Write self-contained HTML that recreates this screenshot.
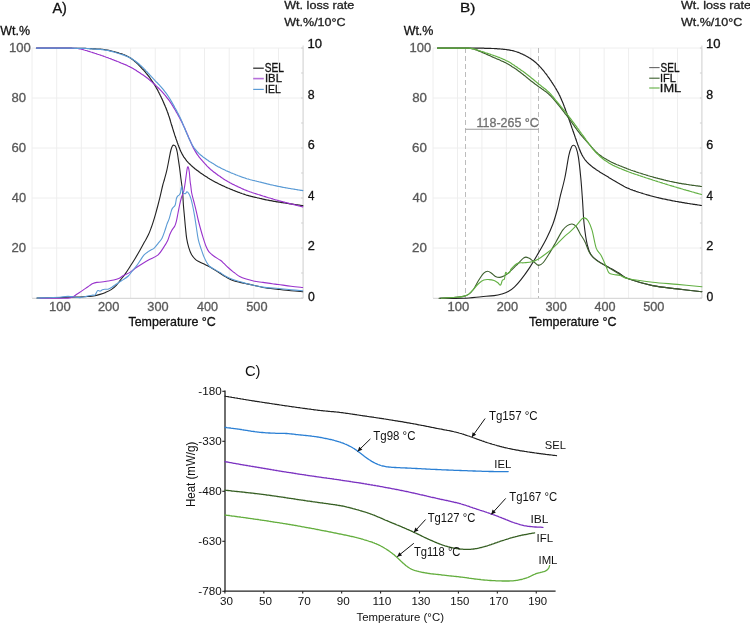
<!DOCTYPE html>
<html><head><meta charset="utf-8"><style>
html,body{margin:0;padding:0;background:#fff;}
svg{display:block;will-change:transform;font-family:"Liberation Sans",sans-serif;}
</style></head><body>
<svg width="750" height="624" viewBox="0 0 750 624">
<rect width="750" height="624" fill="#fff"/>
<line x1="32.06" y1="48" x2="32.06" y2="298" stroke="#eeeeee" stroke-width="1"/>
<line x1="56.70" y1="48" x2="56.70" y2="298" stroke="#eeeeee" stroke-width="1"/>
<line x1="81.34" y1="48" x2="81.34" y2="298" stroke="#eeeeee" stroke-width="1"/>
<line x1="105.98" y1="48" x2="105.98" y2="298" stroke="#eeeeee" stroke-width="1"/>
<line x1="130.62" y1="48" x2="130.62" y2="298" stroke="#eeeeee" stroke-width="1"/>
<line x1="155.26" y1="48" x2="155.26" y2="298" stroke="#eeeeee" stroke-width="1"/>
<line x1="179.90" y1="48" x2="179.90" y2="298" stroke="#eeeeee" stroke-width="1"/>
<line x1="204.54" y1="48" x2="204.54" y2="298" stroke="#eeeeee" stroke-width="1"/>
<line x1="229.18" y1="48" x2="229.18" y2="298" stroke="#eeeeee" stroke-width="1"/>
<line x1="253.82" y1="48" x2="253.82" y2="298" stroke="#eeeeee" stroke-width="1"/>
<line x1="278.46" y1="48" x2="278.46" y2="298" stroke="#eeeeee" stroke-width="1"/>
<line x1="303.10" y1="48" x2="303.10" y2="298" stroke="#eeeeee" stroke-width="1"/>
<line x1="32.06" y1="48" x2="303.1" y2="48" stroke="#eeeeee" stroke-width="1"/>
<line x1="32.06" y1="98" x2="303.1" y2="98" stroke="#eeeeee" stroke-width="1"/>
<line x1="32.06" y1="148" x2="303.1" y2="148" stroke="#eeeeee" stroke-width="1"/>
<line x1="32.06" y1="198" x2="303.1" y2="198" stroke="#eeeeee" stroke-width="1"/>
<line x1="32.06" y1="248" x2="303.1" y2="248" stroke="#eeeeee" stroke-width="1"/>
<line x1="32.06" y1="298.3" x2="303.1" y2="298.3" stroke="#d0d0d0" stroke-width="1"/>
<line x1="303.10" y1="45.5" x2="303.10" y2="298.3" stroke="#d6d6d6" stroke-width="1"/>
<line x1="301.10" y1="298" x2="303.10" y2="298" stroke="#d0d0d0" stroke-width="1"/>
<line x1="301.10" y1="273" x2="303.10" y2="273" stroke="#d0d0d0" stroke-width="1"/>
<line x1="301.10" y1="248" x2="303.10" y2="248" stroke="#d0d0d0" stroke-width="1"/>
<line x1="301.10" y1="223" x2="303.10" y2="223" stroke="#d0d0d0" stroke-width="1"/>
<line x1="301.10" y1="198" x2="303.10" y2="198" stroke="#d0d0d0" stroke-width="1"/>
<line x1="301.10" y1="173" x2="303.10" y2="173" stroke="#d0d0d0" stroke-width="1"/>
<line x1="301.10" y1="148" x2="303.10" y2="148" stroke="#d0d0d0" stroke-width="1"/>
<line x1="301.10" y1="123" x2="303.10" y2="123" stroke="#d0d0d0" stroke-width="1"/>
<line x1="301.10" y1="98" x2="303.10" y2="98" stroke="#d0d0d0" stroke-width="1"/>
<line x1="301.10" y1="73" x2="303.10" y2="73" stroke="#d0d0d0" stroke-width="1"/>
<line x1="301.10" y1="48" x2="303.10" y2="48" stroke="#d0d0d0" stroke-width="1"/>
<line x1="433.06" y1="48" x2="433.06" y2="298" stroke="#eeeeee" stroke-width="1"/>
<line x1="457.50" y1="48" x2="457.50" y2="298" stroke="#eeeeee" stroke-width="1"/>
<line x1="481.94" y1="48" x2="481.94" y2="298" stroke="#eeeeee" stroke-width="1"/>
<line x1="506.38" y1="48" x2="506.38" y2="298" stroke="#eeeeee" stroke-width="1"/>
<line x1="530.82" y1="48" x2="530.82" y2="298" stroke="#eeeeee" stroke-width="1"/>
<line x1="555.26" y1="48" x2="555.26" y2="298" stroke="#eeeeee" stroke-width="1"/>
<line x1="579.70" y1="48" x2="579.70" y2="298" stroke="#eeeeee" stroke-width="1"/>
<line x1="604.14" y1="48" x2="604.14" y2="298" stroke="#eeeeee" stroke-width="1"/>
<line x1="628.58" y1="48" x2="628.58" y2="298" stroke="#eeeeee" stroke-width="1"/>
<line x1="653.02" y1="48" x2="653.02" y2="298" stroke="#eeeeee" stroke-width="1"/>
<line x1="677.46" y1="48" x2="677.46" y2="298" stroke="#eeeeee" stroke-width="1"/>
<line x1="701.90" y1="48" x2="701.90" y2="298" stroke="#eeeeee" stroke-width="1"/>
<line x1="433.06" y1="48" x2="701.9" y2="48" stroke="#eeeeee" stroke-width="1"/>
<line x1="433.06" y1="98" x2="701.9" y2="98" stroke="#eeeeee" stroke-width="1"/>
<line x1="433.06" y1="148" x2="701.9" y2="148" stroke="#eeeeee" stroke-width="1"/>
<line x1="433.06" y1="198" x2="701.9" y2="198" stroke="#eeeeee" stroke-width="1"/>
<line x1="433.06" y1="248" x2="701.9" y2="248" stroke="#eeeeee" stroke-width="1"/>
<line x1="433.06" y1="298.3" x2="701.9" y2="298.3" stroke="#d0d0d0" stroke-width="1"/>
<line x1="701.90" y1="45.5" x2="701.90" y2="298.3" stroke="#d6d6d6" stroke-width="1"/>
<line x1="699.90" y1="298" x2="701.90" y2="298" stroke="#d0d0d0" stroke-width="1"/>
<line x1="699.90" y1="273" x2="701.90" y2="273" stroke="#d0d0d0" stroke-width="1"/>
<line x1="699.90" y1="248" x2="701.90" y2="248" stroke="#d0d0d0" stroke-width="1"/>
<line x1="699.90" y1="223" x2="701.90" y2="223" stroke="#d0d0d0" stroke-width="1"/>
<line x1="699.90" y1="198" x2="701.90" y2="198" stroke="#d0d0d0" stroke-width="1"/>
<line x1="699.90" y1="173" x2="701.90" y2="173" stroke="#d0d0d0" stroke-width="1"/>
<line x1="699.90" y1="148" x2="701.90" y2="148" stroke="#d0d0d0" stroke-width="1"/>
<line x1="699.90" y1="123" x2="701.90" y2="123" stroke="#d0d0d0" stroke-width="1"/>
<line x1="699.90" y1="98" x2="701.90" y2="98" stroke="#d0d0d0" stroke-width="1"/>
<line x1="699.90" y1="73" x2="701.90" y2="73" stroke="#d0d0d0" stroke-width="1"/>
<line x1="699.90" y1="48" x2="701.90" y2="48" stroke="#d0d0d0" stroke-width="1"/>
<text x="52.43" y="12.60" font-size="14.07" fill="#111" textLength="14.52" lengthAdjust="spacingAndGlyphs" stroke="#111" stroke-width="0.3">A)</text>
<text x="0.24" y="34.90" font-size="13.38" fill="#111" textLength="29.78" lengthAdjust="spacingAndGlyphs" stroke="#111" stroke-width="0.3">Wt.%</text>
<text x="284.24" y="9.40" font-size="10.76" fill="#222" textLength="69.95" lengthAdjust="spacingAndGlyphs" stroke="#222" stroke-width="0.3">Wt. loss rate</text>
<text x="284.24" y="26.10" font-size="11.31" fill="#222" textLength="61.37" lengthAdjust="spacingAndGlyphs" stroke="#222" stroke-width="0.3">Wt.%/10°C</text>
<text x="8.92" y="52.00" font-size="12.00" fill="#595959" textLength="21.85" lengthAdjust="spacingAndGlyphs" stroke="#595959" stroke-width="0.3">100</text>
<text x="11.61" y="101.80" font-size="12.14" fill="#595959" textLength="14.54" lengthAdjust="spacingAndGlyphs" stroke="#595959" stroke-width="0.3">80</text>
<text x="11.54" y="151.80" font-size="12.14" fill="#595959" textLength="14.61" lengthAdjust="spacingAndGlyphs" stroke="#595959" stroke-width="0.3">60</text>
<text x="11.88" y="201.80" font-size="12.14" fill="#595959" textLength="14.26" lengthAdjust="spacingAndGlyphs" stroke="#595959" stroke-width="0.3">40</text>
<text x="11.54" y="251.80" font-size="12.14" fill="#595959" textLength="14.61" lengthAdjust="spacingAndGlyphs" stroke="#595959" stroke-width="0.3">20</text>
<text x="307.42" y="47.50" font-size="12.00" fill="#111" textLength="14.53" lengthAdjust="spacingAndGlyphs" stroke="#111" stroke-width="0.3">10</text>
<text x="307.84" y="98.50" font-size="12.00" fill="#111" textLength="6.86" lengthAdjust="spacingAndGlyphs" stroke="#111" stroke-width="0.3">8</text>
<text x="307.77" y="148.70" font-size="12.00" fill="#111" textLength="7.01" lengthAdjust="spacingAndGlyphs" stroke="#111" stroke-width="0.3">6</text>
<text x="308.11" y="199.50" font-size="12.17" fill="#111" textLength="6.45" lengthAdjust="spacingAndGlyphs" stroke="#111" stroke-width="0.3">4</text>
<text x="307.76" y="249.90" font-size="12.00" fill="#111" textLength="7.09" lengthAdjust="spacingAndGlyphs" stroke="#111" stroke-width="0.3">2</text>
<text x="307.91" y="300.60" font-size="12.00" fill="#111" textLength="6.79" lengthAdjust="spacingAndGlyphs" stroke="#111" stroke-width="0.3">0</text>
<text x="48.92" y="310.80" font-size="12.00" fill="#595959" textLength="21.74" lengthAdjust="spacingAndGlyphs" stroke="#595959" stroke-width="0.3">100</text>
<text x="97.96" y="310.80" font-size="12.00" fill="#595959" textLength="21.40" lengthAdjust="spacingAndGlyphs" stroke="#595959" stroke-width="0.3">200</text>
<text x="147.39" y="310.80" font-size="12.00" fill="#595959" textLength="21.26" lengthAdjust="spacingAndGlyphs" stroke="#595959" stroke-width="0.3">300</text>
<text x="196.98" y="310.80" font-size="12.00" fill="#595959" textLength="21.07" lengthAdjust="spacingAndGlyphs" stroke="#595959" stroke-width="0.3">400</text>
<text x="246.29" y="310.80" font-size="12.00" fill="#595959" textLength="21.26" lengthAdjust="spacingAndGlyphs" stroke="#595959" stroke-width="0.3">500</text>
<text x="128.49" y="325.50" font-size="12.29" fill="#111" textLength="87.26" lengthAdjust="spacingAndGlyphs" stroke="#111" stroke-width="0.3">Temperature °C</text>
<line x1="253.2" y1="68.2" x2="263.8" y2="68.2" stroke="#222222" stroke-width="1.2"/>
<text x="264.74" y="71.80" font-size="12.00" fill="#111" textLength="19.16" lengthAdjust="spacingAndGlyphs" stroke="#111" stroke-width="0.3">SEL</text>
<line x1="253.2" y1="78.6" x2="263.8" y2="78.6" stroke="#9933cc" stroke-width="1.6" stroke-opacity="0.7"/>
<text x="264.98" y="81.80" font-size="11.01" fill="#111" textLength="16.97" lengthAdjust="spacingAndGlyphs" stroke="#111" stroke-width="0.3">IBL</text>
<line x1="253.2" y1="89.4" x2="263.8" y2="89.4" stroke="#5b9bd5" stroke-width="1.2"/>
<text x="265.06" y="92.60" font-size="11.01" fill="#111" textLength="15.66" lengthAdjust="spacingAndGlyphs" stroke="#111" stroke-width="0.3">IEL</text>
<text x="460.06" y="12.30" font-size="13.52" fill="#111" textLength="15.44" lengthAdjust="spacingAndGlyphs" stroke="#111" stroke-width="0.3">B)</text>
<text x="403.64" y="35.30" font-size="13.09" fill="#111" textLength="29.78" lengthAdjust="spacingAndGlyphs" stroke="#111" stroke-width="0.3">Wt.%</text>
<text x="680.94" y="8.90" font-size="10.76" fill="#222" textLength="69.95" lengthAdjust="spacingAndGlyphs" stroke="#222" stroke-width="0.3">Wt. loss rate</text>
<text x="680.94" y="25.90" font-size="11.45" fill="#222" textLength="61.37" lengthAdjust="spacingAndGlyphs" stroke="#222" stroke-width="0.3">Wt.%/10°C</text>
<text x="409.53" y="52.00" font-size="12.00" fill="#595959" textLength="21.64" lengthAdjust="spacingAndGlyphs" stroke="#595959" stroke-width="0.3">100</text>
<text x="412.20" y="101.80" font-size="12.14" fill="#595959" textLength="14.76" lengthAdjust="spacingAndGlyphs" stroke="#595959" stroke-width="0.3">80</text>
<text x="412.13" y="151.80" font-size="12.14" fill="#595959" textLength="14.83" lengthAdjust="spacingAndGlyphs" stroke="#595959" stroke-width="0.3">60</text>
<text x="412.47" y="201.80" font-size="12.14" fill="#595959" textLength="14.48" lengthAdjust="spacingAndGlyphs" stroke="#595959" stroke-width="0.3">40</text>
<text x="412.13" y="251.80" font-size="12.14" fill="#595959" textLength="14.83" lengthAdjust="spacingAndGlyphs" stroke="#595959" stroke-width="0.3">20</text>
<text x="705.92" y="47.50" font-size="12.00" fill="#111" textLength="14.53" lengthAdjust="spacingAndGlyphs" stroke="#111" stroke-width="0.3">10</text>
<text x="706.34" y="98.50" font-size="12.00" fill="#111" textLength="6.86" lengthAdjust="spacingAndGlyphs" stroke="#111" stroke-width="0.3">8</text>
<text x="706.27" y="148.70" font-size="12.00" fill="#111" textLength="7.01" lengthAdjust="spacingAndGlyphs" stroke="#111" stroke-width="0.3">6</text>
<text x="706.61" y="199.50" font-size="12.17" fill="#111" textLength="6.45" lengthAdjust="spacingAndGlyphs" stroke="#111" stroke-width="0.3">4</text>
<text x="706.26" y="249.90" font-size="12.00" fill="#111" textLength="7.09" lengthAdjust="spacingAndGlyphs" stroke="#111" stroke-width="0.3">2</text>
<text x="706.41" y="300.60" font-size="12.00" fill="#111" textLength="6.79" lengthAdjust="spacingAndGlyphs" stroke="#111" stroke-width="0.3">0</text>
<text x="447.52" y="310.80" font-size="12.00" fill="#595959" textLength="21.74" lengthAdjust="spacingAndGlyphs" stroke="#595959" stroke-width="0.3">100</text>
<text x="496.66" y="310.80" font-size="12.00" fill="#595959" textLength="21.40" lengthAdjust="spacingAndGlyphs" stroke="#595959" stroke-width="0.3">200</text>
<text x="545.49" y="310.80" font-size="12.00" fill="#595959" textLength="21.26" lengthAdjust="spacingAndGlyphs" stroke="#595959" stroke-width="0.3">300</text>
<text x="594.58" y="310.80" font-size="12.00" fill="#595959" textLength="21.07" lengthAdjust="spacingAndGlyphs" stroke="#595959" stroke-width="0.3">400</text>
<text x="643.19" y="310.80" font-size="12.00" fill="#595959" textLength="21.26" lengthAdjust="spacingAndGlyphs" stroke="#595959" stroke-width="0.3">500</text>
<text x="528.99" y="325.50" font-size="12.29" fill="#111" textLength="87.56" lengthAdjust="spacingAndGlyphs" stroke="#111" stroke-width="0.3">Temperature °C</text>
<line x1="649.2" y1="67.6" x2="659.6" y2="67.6" stroke="#666" stroke-width="1.1"/>
<text x="660.55" y="71.80" font-size="12.00" fill="#111" textLength="18.95" lengthAdjust="spacingAndGlyphs" stroke="#111" stroke-width="0.3">SEL</text>
<line x1="649.2" y1="78.2" x2="659.6" y2="78.2" stroke="#3d5f2e" stroke-width="1.1"/>
<text x="660.01" y="81.50" font-size="11.16" fill="#111" textLength="15.92" lengthAdjust="spacingAndGlyphs" stroke="#111" stroke-width="0.3">IFL</text>
<line x1="649.2" y1="88.0" x2="659.6" y2="88.0" stroke="#62b043" stroke-width="1.1"/>
<text x="659.85" y="91.60" font-size="11.30" fill="#111" textLength="21.36" lengthAdjust="spacingAndGlyphs" stroke="#111" stroke-width="0.3">IML</text>
<line x1="465.5" y1="48" x2="465.5" y2="298" stroke="#bcbcbc" stroke-width="1" stroke-dasharray="5,3"/>
<line x1="538.5" y1="48" x2="538.5" y2="298" stroke="#bcbcbc" stroke-width="1" stroke-dasharray="5,3"/>
<line x1="465.5" y1="129.3" x2="538.5" y2="129.3" stroke="#9a9a9a" stroke-width="1.1"/>
<text x="476.57" y="126.80" font-size="11.86" fill="#707070" textLength="62.24" lengthAdjust="spacingAndGlyphs" stroke="#707070" stroke-width="0.3">118-265 °C</text>
<path d="M36.5,48.2 37.5,48.2 38.5,48.2 39.5,48.2 40.5,48.2 41.5,48.2 42.5,48.2 43.5,48.2 44.5,48.2 45.5,48.2 46.6,48.2 47.6,48.2 48.6,48.2 49.6,48.2 50.6,48.2 51.6,48.2 52.6,48.2 53.6,48.2 54.6,48.2 55.6,48.2 56.6,48.2 57.6,48.2 58.6,48.2 59.6,48.2 60.6,48.2 61.6,48.2 62.6,48.2 63.6,48.2 64.6,48.2 65.7,48.2 66.7,48.2 67.7,48.2 68.7,48.2 69.7,48.2 70.7,48.2 71.7,48.2 72.7,48.3 73.7,48.3 74.7,48.3 75.7,48.3 76.7,48.3 77.7,48.3 78.7,48.3 79.7,48.3 80.7,48.3 81.7,48.3 82.7,48.4 83.7,48.4 84.7,48.4 85.8,48.4 86.8,48.5 87.8,48.5 88.8,48.5 89.8,48.6 90.8,48.6 91.8,48.7 92.8,48.8 93.8,48.8 94.8,48.9 95.8,48.9 96.8,49.0 97.8,49.0 98.8,49.1 99.8,49.2 100.8,49.2 101.8,49.3 102.8,49.4 103.8,49.5 104.8,49.7 105.8,49.8 106.8,50.0 107.8,50.2 108.7,50.4 109.7,50.6 110.7,50.8 111.7,51.1 112.7,51.3 113.6,51.5 114.6,51.8 115.6,52.1 116.5,52.3 117.5,52.6 118.5,52.9 119.4,53.2 120.4,53.5 121.4,53.8 122.3,54.1 123.2,54.5 124.2,54.8 125.1,55.2 126.0,55.6 126.9,56.1 127.8,56.5 128.7,57.0 129.6,57.5 130.4,58.0 131.2,58.6 132.1,59.2 132.9,59.8 133.7,60.4 134.4,61.0 135.2,61.7 136.0,62.3 136.7,63.0 137.4,63.7 138.1,64.4 138.8,65.1 139.5,65.9 140.2,66.6 140.9,67.3 141.6,68.0 142.3,68.8 143.0,69.5 143.7,70.2 144.3,71.0 145.0,71.7 145.7,72.5 146.3,73.3 146.9,74.0 147.6,74.8 148.2,75.6 148.8,76.4 149.4,77.2 150.0,78.0 150.5,78.9 151.1,79.7 151.7,80.5 152.3,81.3 152.8,82.2 153.4,83.0 154.0,83.8 154.5,84.7 155.0,85.5 155.5,86.4 156.0,87.3 156.5,88.1 157.0,89.0 157.5,89.9 158.0,90.8 158.4,91.7 158.9,92.6 159.3,93.5 159.8,94.4 160.2,95.3 160.7,96.2 161.1,97.1 161.5,98.0 162.0,98.9 162.4,99.8 162.8,100.7 163.2,101.6 163.6,102.6 164.0,103.5 164.4,104.4 164.8,105.3 165.2,106.3 165.6,107.2 166.0,108.1 166.3,109.1 166.7,110.0 167.1,110.9 167.4,111.9 167.8,112.8 168.1,113.8 168.4,114.7 168.7,115.7 169.1,116.6 169.4,117.6 169.7,118.5 170.0,119.5 170.3,120.5 170.5,121.4 170.8,122.4 171.1,123.4 171.4,124.3 171.7,125.3 172.0,126.2 172.3,127.2 172.6,128.2 172.9,129.1 173.2,130.1 173.5,131.0 173.8,132.0 174.1,132.9 174.4,133.9 174.7,134.9 175.0,135.8 175.4,136.8 175.7,137.7 176.0,138.7 176.3,139.6 176.7,140.6 177.0,141.5 177.3,142.5 177.7,143.4 178.0,144.4 178.4,145.3 178.7,146.2 179.1,147.2 179.4,148.1 179.8,149.0 180.2,150.0 180.6,150.9 181.0,151.8 181.5,152.7 181.9,153.6 182.4,154.5 182.9,155.4 183.4,156.2 183.9,157.1 184.5,157.9 185.1,158.7 185.7,159.5 186.3,160.3 186.9,161.1 187.6,161.8 188.3,162.6 189.0,163.3 189.7,164.0 190.4,164.7 191.1,165.4 191.8,166.1 192.6,166.7 193.4,167.4 194.1,168.0 194.9,168.7 195.7,169.3 196.5,169.9 197.3,170.5 198.1,171.1 198.9,171.7 199.7,172.3 200.5,172.9 201.4,173.5 202.2,174.1 203.0,174.6 203.9,175.2 204.7,175.7 205.5,176.3 206.4,176.8 207.2,177.3 208.1,177.9 209.0,178.4 209.8,178.9 210.7,179.4 211.6,179.9 212.4,180.4 213.3,180.9 214.2,181.4 215.1,181.9 215.9,182.4 216.8,182.8 217.7,183.3 218.6,183.8 219.5,184.2 220.4,184.6 221.3,185.1 222.2,185.5 223.1,185.9 224.1,186.3 225.0,186.8 225.9,187.2 226.8,187.6 227.7,188.0 228.7,188.3 229.6,188.7 230.5,189.1 231.5,189.5 232.4,189.9 233.3,190.3 234.2,190.6 235.2,191.0 236.1,191.4 237.1,191.7 238.0,192.1 238.9,192.4 239.9,192.8 240.8,193.1 241.8,193.5 242.7,193.8 243.7,194.1 244.6,194.4 245.6,194.8 246.5,195.1 247.5,195.3 248.5,195.6 249.4,195.9 250.4,196.1 251.4,196.4 252.4,196.6 253.3,196.9 254.3,197.1 255.3,197.3 256.3,197.5 257.3,197.8 258.2,198.0 259.2,198.2 260.2,198.5 261.2,198.7 262.1,198.9 263.1,199.2 264.1,199.4 265.1,199.6 266.1,199.8 267.1,200.0 268.0,200.2 269.0,200.4 270.0,200.6 271.0,200.7 272.0,200.9 273.0,201.1 274.0,201.3 275.0,201.4 276.0,201.6 276.9,201.8 277.9,201.9 278.9,202.1 279.9,202.2 280.9,202.4 281.9,202.6 282.9,202.7 283.9,202.9 284.9,203.0 285.9,203.2 286.9,203.3 287.9,203.5 288.9,203.6 289.9,203.8 290.9,203.9 291.9,204.1 292.8,204.2 293.8,204.3 294.8,204.5 295.8,204.6 296.8,204.8 297.8,204.9 298.8,205.0 299.8,205.2 300.8,205.3 301.8,205.5 302.8,205.6" fill="none" stroke="#222222" stroke-width="1.2" stroke-linejoin="round" stroke-linecap="round"/>
<path d="M36.5,48.2 37.5,48.2 38.5,48.2 39.5,48.2 40.5,48.2 41.5,48.2 42.5,48.2 43.5,48.2 44.5,48.2 45.5,48.2 46.6,48.2 47.6,48.2 48.6,48.2 49.6,48.2 50.6,48.2 51.6,48.2 52.6,48.2 53.6,48.2 54.6,48.2 55.6,48.2 56.6,48.2 57.6,48.2 58.6,48.2 59.6,48.2 60.6,48.2 61.6,48.2 62.6,48.2 63.6,48.2 64.6,48.2 65.7,48.2 66.7,48.2 67.7,48.2 68.7,48.2 69.7,48.2 70.7,48.2 71.7,48.3 72.7,48.3 73.7,48.3 74.7,48.3 75.7,48.4 76.7,48.4 77.6,48.5 78.6,48.6 79.5,48.8 80.5,49.0 81.4,49.2 82.3,49.5 83.3,49.7 84.2,50.0 85.2,50.3 86.1,50.5 87.1,50.8 88.0,51.1 89.0,51.4 90.0,51.7 90.9,52.0 91.9,52.3 92.8,52.6 93.8,52.9 94.7,53.2 95.7,53.5 96.7,53.9 97.6,54.2 98.6,54.5 99.5,54.8 100.5,55.1 101.4,55.5 102.4,55.8 103.3,56.1 104.3,56.5 105.2,56.8 106.2,57.2 107.1,57.5 108.0,57.8 109.0,58.2 109.9,58.5 110.9,58.9 111.8,59.3 112.7,59.6 113.7,60.0 114.6,60.4 115.6,60.7 116.5,61.1 117.4,61.5 118.4,61.8 119.3,62.2 120.2,62.6 121.1,63.0 122.1,63.4 123.0,63.7 123.9,64.1 124.9,64.5 125.8,64.9 126.7,65.3 127.6,65.7 128.5,66.2 129.4,66.6 130.3,67.1 131.2,67.5 132.1,68.0 133.0,68.5 133.8,69.0 134.7,69.5 135.5,70.1 136.4,70.6 137.2,71.2 138.1,71.7 138.9,72.3 139.8,72.8 140.6,73.4 141.4,73.9 142.3,74.5 143.1,75.0 143.9,75.6 144.8,76.2 145.6,76.8 146.4,77.4 147.2,78.0 148.0,78.6 148.7,79.2 149.5,79.9 150.3,80.5 151.0,81.2 151.8,81.9 152.5,82.5 153.3,83.2 154.0,83.9 154.8,84.5 155.5,85.2 156.2,85.9 157.0,86.6 157.7,87.3 158.4,88.0 159.1,88.7 159.8,89.4 160.5,90.2 161.2,90.9 161.9,91.6 162.6,92.4 163.2,93.1 163.9,93.9 164.5,94.7 165.2,95.4 165.8,96.2 166.4,97.0 167.1,97.8 167.7,98.6 168.3,99.4 168.9,100.2 169.5,101.0 170.1,101.8 170.6,102.6 171.2,103.5 171.7,104.3 172.3,105.2 172.8,106.0 173.3,106.9 173.8,107.7 174.4,108.6 174.9,109.5 175.4,110.3 175.9,111.2 176.4,112.1 176.9,113.0 177.4,113.8 177.9,114.7 178.4,115.6 178.8,116.5 179.3,117.3 179.8,118.2 180.3,119.1 180.7,120.0 181.2,120.9 181.7,121.8 182.1,122.7 182.5,123.6 183.0,124.5 183.4,125.4 183.8,126.3 184.3,127.2 184.7,128.1 185.1,129.1 185.5,130.0 185.9,130.9 186.3,131.8 186.7,132.7 187.1,133.7 187.5,134.6 187.9,135.5 188.3,136.4 188.7,137.4 189.1,138.3 189.5,139.2 189.9,140.1 190.3,141.1 190.7,142.0 191.1,142.9 191.5,143.8 191.9,144.7 192.3,145.7 192.7,146.6 193.2,147.5 193.6,148.4 194.1,149.2 194.6,150.1 195.1,151.0 195.6,151.9 196.1,152.7 196.7,153.6 197.2,154.4 197.8,155.2 198.4,156.0 199.0,156.8 199.6,157.6 200.3,158.4 200.9,159.2 201.6,159.9 202.2,160.7 202.9,161.4 203.5,162.2 204.2,162.9 204.9,163.7 205.6,164.4 206.3,165.2 206.9,165.9 207.6,166.6 208.4,167.3 209.1,168.0 209.8,168.7 210.6,169.3 211.3,170.0 212.1,170.6 212.9,171.3 213.7,171.9 214.5,172.5 215.3,173.1 216.1,173.7 216.9,174.3 217.7,174.9 218.5,175.5 219.4,176.1 220.2,176.6 221.0,177.2 221.8,177.8 222.7,178.3 223.5,178.9 224.4,179.4 225.2,179.9 226.1,180.4 227.0,181.0 227.8,181.5 228.7,182.0 229.6,182.5 230.4,183.0 231.3,183.4 232.2,183.9 233.1,184.4 234.0,184.8 234.9,185.3 235.8,185.7 236.7,186.1 237.6,186.6 238.5,187.0 239.4,187.4 240.4,187.8 241.3,188.3 242.2,188.7 243.1,189.1 244.0,189.5 245.0,189.9 245.9,190.2 246.8,190.6 247.8,191.0 248.7,191.3 249.6,191.7 250.6,192.0 251.5,192.3 252.5,192.7 253.5,193.0 254.4,193.3 255.4,193.6 256.3,193.9 257.3,194.2 258.2,194.5 259.2,194.8 260.2,195.1 261.1,195.4 262.1,195.7 263.0,196.0 264.0,196.3 265.0,196.6 265.9,196.9 266.9,197.2 267.8,197.5 268.8,197.8 269.8,198.0 270.7,198.3 271.7,198.6 272.7,198.9 273.6,199.2 274.6,199.5 275.5,199.8 276.5,200.0 277.5,200.3 278.4,200.6 279.4,200.9 280.4,201.1 281.4,201.4 282.3,201.6 283.3,201.9 284.3,202.1 285.2,202.4 286.2,202.6 287.2,202.9 288.2,203.1 289.1,203.4 290.1,203.6 291.1,203.9 292.1,204.1 293.0,204.4 294.0,204.6 295.0,204.9 296.0,205.1 296.9,205.3 297.9,205.6 298.9,205.8 299.9,206.1 300.8,206.3 301.8,206.6 302.8,206.8" fill="none" stroke="#9933cc" stroke-width="1.2" stroke-linejoin="round" stroke-linecap="round"/>
<path d="M36.5,48.2 37.5,48.2 38.5,48.2 39.5,48.2 40.5,48.2 41.5,48.2 42.5,48.2 43.5,48.2 44.5,48.2 45.5,48.2 46.5,48.2 47.6,48.2 48.6,48.2 49.6,48.2 50.6,48.2 51.6,48.2 52.6,48.2 53.6,48.2 54.6,48.2 55.6,48.2 56.6,48.2 57.6,48.2 58.6,48.2 59.6,48.2 60.6,48.2 61.6,48.2 62.6,48.2 63.6,48.2 64.6,48.2 65.6,48.2 66.6,48.2 67.6,48.2 68.7,48.2 69.7,48.2 70.7,48.2 71.7,48.2 72.7,48.2 73.7,48.2 74.7,48.3 75.7,48.3 76.7,48.3 77.7,48.3 78.7,48.3 79.7,48.3 80.7,48.3 81.7,48.3 82.7,48.4 83.7,48.4 84.7,48.4 85.7,48.5 86.7,48.5 87.7,48.6 88.7,48.6 89.7,48.7 90.7,48.8 91.7,48.8 92.7,48.9 93.7,49.0 94.7,49.1 95.8,49.1 96.8,49.2 97.8,49.3 98.8,49.3 99.8,49.4 100.8,49.5 101.8,49.6 102.8,49.7 103.8,49.8 104.7,50.0 105.7,50.1 106.7,50.3 107.7,50.5 108.7,50.7 109.7,50.9 110.6,51.2 111.6,51.4 112.6,51.7 113.6,51.9 114.5,52.2 115.5,52.5 116.5,52.8 117.4,53.0 118.4,53.3 119.3,53.7 120.3,54.0 121.2,54.3 122.2,54.6 123.1,54.9 124.1,55.3 125.0,55.6 126.0,56.0 126.9,56.4 127.8,56.8 128.7,57.2 129.6,57.6 130.5,58.1 131.4,58.6 132.2,59.1 133.1,59.6 133.9,60.2 134.8,60.7 135.6,61.3 136.4,61.9 137.2,62.5 138.0,63.2 138.7,63.8 139.5,64.5 140.2,65.1 141.0,65.8 141.7,66.5 142.5,67.2 143.2,67.9 143.9,68.6 144.6,69.3 145.3,70.0 145.9,70.8 146.6,71.5 147.3,72.2 148.0,73.0 148.7,73.7 149.4,74.5 150.0,75.2 150.7,75.9 151.4,76.7 152.1,77.4 152.8,78.1 153.5,78.9 154.2,79.6 154.9,80.3 155.5,81.1 156.2,81.8 156.9,82.5 157.6,83.2 158.3,84.0 159.0,84.7 159.7,85.4 160.3,86.2 161.0,86.9 161.7,87.7 162.3,88.5 163.0,89.2 163.6,90.0 164.3,90.8 164.9,91.6 165.5,92.3 166.1,93.2 166.7,94.0 167.3,94.8 167.8,95.6 168.4,96.5 168.9,97.3 169.4,98.2 170.0,99.0 170.5,99.9 171.0,100.7 171.5,101.6 172.0,102.5 172.5,103.4 173.0,104.2 173.5,105.1 174.0,106.0 174.5,106.9 174.9,107.7 175.4,108.6 175.9,109.5 176.4,110.4 176.9,111.3 177.3,112.2 177.8,113.0 178.3,113.9 178.7,114.8 179.2,115.7 179.6,116.6 180.1,117.5 180.5,118.4 180.9,119.3 181.3,120.3 181.7,121.2 182.1,122.1 182.5,123.0 182.9,124.0 183.3,124.9 183.6,125.8 184.0,126.8 184.4,127.7 184.8,128.6 185.1,129.6 185.5,130.5 185.9,131.4 186.3,132.3 186.7,133.3 187.1,134.2 187.5,135.1 187.9,136.0 188.3,137.0 188.7,137.9 189.1,138.8 189.5,139.7 190.0,140.6 190.4,141.5 190.9,142.4 191.3,143.3 191.8,144.2 192.3,145.0 192.8,145.9 193.4,146.7 193.9,147.6 194.5,148.4 195.1,149.2 195.7,150.0 196.4,150.7 197.0,151.5 197.7,152.2 198.4,152.9 199.1,153.6 199.9,154.3 200.6,155.0 201.4,155.6 202.2,156.2 203.0,156.9 203.8,157.5 204.6,158.1 205.4,158.6 206.2,159.2 207.0,159.8 207.9,160.3 208.7,160.9 209.6,161.5 210.4,162.0 211.3,162.5 212.1,163.1 213.0,163.6 213.8,164.1 214.7,164.6 215.5,165.2 216.4,165.7 217.3,166.2 218.1,166.7 219.0,167.1 219.9,167.6 220.8,168.1 221.7,168.5 222.6,169.0 223.5,169.4 224.4,169.8 225.3,170.2 226.2,170.7 227.2,171.1 228.1,171.5 229.0,171.9 229.9,172.3 230.8,172.7 231.8,173.1 232.7,173.5 233.6,173.8 234.6,174.2 235.5,174.6 236.4,175.0 237.4,175.3 238.3,175.7 239.2,176.0 240.2,176.4 241.1,176.7 242.1,177.1 243.0,177.4 244.0,177.7 244.9,178.0 245.9,178.4 246.8,178.7 247.8,179.0 248.8,179.2 249.7,179.5 250.7,179.8 251.7,180.0 252.6,180.3 253.6,180.5 254.6,180.7 255.6,181.0 256.5,181.2 257.5,181.5 258.5,181.7 259.5,182.0 260.4,182.2 261.4,182.4 262.4,182.7 263.4,182.9 264.3,183.2 265.3,183.4 266.3,183.6 267.3,183.9 268.3,184.1 269.2,184.3 270.2,184.6 271.2,184.8 272.2,185.0 273.1,185.2 274.1,185.5 275.1,185.7 276.1,185.9 277.1,186.1 278.1,186.3 279.0,186.5 280.0,186.7 281.0,186.9 282.0,187.1 283.0,187.3 284.0,187.5 285.0,187.6 286.0,187.8 286.9,188.0 287.9,188.2 288.9,188.3 289.9,188.5 290.9,188.7 291.9,188.8 292.9,189.0 293.9,189.1 294.9,189.3 295.9,189.5 296.9,189.6 297.8,189.8 298.8,190.0 299.8,190.1 300.8,190.3 301.8,190.4 302.8,190.6" fill="none" stroke="#5b9bd5" stroke-width="1.2" stroke-linejoin="round" stroke-linecap="round"/>
<path d="M37.00,298.00 C40.83,297.93 54.17,297.75 60.00,297.60 C65.83,297.45 68.67,297.20 72.00,297.10 C75.33,297.00 77.33,297.10 80.00,297.00 C82.67,296.90 85.73,296.67 88.00,296.50 C90.27,296.33 91.60,296.35 93.60,296.00 C95.60,295.65 98.00,295.00 100.00,294.40 C102.00,293.80 103.73,293.20 105.60,292.40 C107.47,291.60 109.42,290.78 111.20,289.60 C112.98,288.42 114.73,286.93 116.30,285.30 C117.87,283.67 119.08,281.75 120.60,279.80 C122.12,277.85 123.80,275.85 125.40,273.60 C127.00,271.35 128.60,268.78 130.20,266.30 C131.80,263.82 133.40,261.33 135.00,258.70 C136.60,256.07 138.20,253.32 139.80,250.50 C141.40,247.68 143.15,244.45 144.60,241.80 C146.05,239.15 147.40,236.93 148.50,234.60 C149.60,232.27 150.42,229.92 151.20,227.80 C151.98,225.68 152.47,224.23 153.20,221.90 C153.93,219.57 154.80,216.62 155.60,213.80 C156.40,210.98 157.20,208.07 158.00,205.00 C158.80,201.93 159.60,198.73 160.40,195.40 C161.20,192.07 162.13,187.65 162.80,185.00 C163.47,182.35 163.73,181.93 164.40,179.50 C165.07,177.07 166.00,173.92 166.80,170.40 C167.60,166.88 168.53,161.72 169.20,158.40 C169.87,155.08 170.27,152.57 170.80,150.50 C171.33,148.43 171.87,146.88 172.40,146.00 C172.93,145.12 173.47,145.10 174.00,145.20 C174.53,145.30 175.07,145.47 175.60,146.60 C176.13,147.73 176.73,149.77 177.20,152.00 C177.67,154.23 178.00,157.33 178.40,160.00 C178.80,162.67 179.20,165.05 179.60,168.00 C180.00,170.95 180.40,174.62 180.80,177.70 C181.20,180.78 181.68,183.95 182.00,186.50 C182.32,189.05 182.47,189.92 182.70,193.00 C182.93,196.08 183.10,201.00 183.40,205.00 C183.70,209.00 184.15,213.17 184.50,217.00 C184.85,220.83 185.13,224.38 185.50,228.00 C185.87,231.62 186.17,235.48 186.70,238.70 C187.23,241.92 187.90,244.67 188.70,247.30 C189.50,249.93 190.38,252.50 191.50,254.50 C192.62,256.50 194.12,258.10 195.40,259.30 C196.68,260.50 197.60,260.82 199.20,261.70 C200.80,262.58 203.07,263.63 205.00,264.60 C206.93,265.57 208.55,266.22 210.80,267.50 C213.05,268.78 215.93,270.70 218.50,272.30 C221.07,273.90 223.80,275.73 226.20,277.10 C228.60,278.47 230.60,279.62 232.90,280.50 C235.20,281.38 238.10,281.93 240.00,282.40 C241.90,282.87 242.05,282.83 244.30,283.30 C246.55,283.77 250.38,284.50 253.50,285.20 C256.62,285.90 258.85,286.80 263.00,287.50 C267.15,288.20 273.73,288.85 278.40,289.40 C283.07,289.95 286.95,290.42 291.00,290.80 C295.05,291.18 300.75,291.55 302.70,291.70" fill="none" stroke="#222222" stroke-width="1.1" stroke-linejoin="round" stroke-linecap="round"/>
<path d="M40.00,298.20 C43.33,298.20 55.33,298.20 60.00,298.20 C64.67,298.20 65.87,298.40 68.00,298.20 C70.13,298.00 71.47,297.57 72.80,297.00 C74.13,296.43 74.67,295.70 76.00,294.80 C77.33,293.90 79.20,292.67 80.80,291.60 C82.40,290.53 84.13,289.40 85.60,288.40 C87.07,287.40 88.40,286.40 89.60,285.60 C90.80,284.80 91.60,284.13 92.80,283.60 C94.00,283.07 95.33,282.67 96.80,282.40 C98.27,282.13 99.73,282.23 101.60,282.00 C103.47,281.77 105.97,281.33 108.00,281.00 C110.03,280.67 112.02,280.43 113.80,280.00 C115.58,279.57 117.08,279.15 118.70,278.40 C120.32,277.65 121.58,276.55 123.50,275.50 C125.42,274.45 128.12,273.38 130.20,272.10 C132.28,270.82 133.92,269.23 136.00,267.80 C138.08,266.37 140.47,264.87 142.70,263.50 C144.93,262.13 146.83,261.05 149.40,259.60 C151.97,258.15 155.70,256.88 158.10,254.80 C160.50,252.72 162.20,249.50 163.80,247.10 C165.40,244.70 166.70,242.50 167.70,240.40 C168.70,238.30 169.15,236.12 169.80,234.50 C170.45,232.88 170.77,232.13 171.60,230.70 C172.43,229.27 174.00,227.50 174.80,225.90 C175.60,224.30 175.87,223.25 176.40,221.10 C176.93,218.95 177.47,215.68 178.00,213.00 C178.53,210.32 179.00,207.67 179.60,205.00 C180.20,202.33 180.92,199.27 181.60,197.00 C182.28,194.73 183.08,193.90 183.70,191.40 C184.32,188.90 184.90,184.55 185.30,182.00 C185.70,179.45 185.77,178.40 186.10,176.10 C186.43,173.80 186.95,169.72 187.30,168.20 C187.65,166.68 187.87,166.37 188.20,167.00 C188.53,167.63 188.98,169.67 189.30,172.00 C189.62,174.33 189.85,178.67 190.10,181.00 C190.35,183.33 190.53,184.00 190.80,186.00 C191.07,188.00 191.22,190.50 191.70,193.00 C192.18,195.50 192.97,198.07 193.70,201.00 C194.43,203.93 195.37,207.52 196.10,210.60 C196.83,213.68 197.40,216.60 198.10,219.50 C198.80,222.40 199.47,224.97 200.30,228.00 C201.13,231.03 202.15,234.65 203.10,237.70 C204.05,240.75 205.05,243.98 206.00,246.30 C206.95,248.62 207.52,249.98 208.80,251.60 C210.08,253.22 211.77,254.55 213.70,256.00 C215.63,257.45 218.65,259.02 220.40,260.30 C222.15,261.58 222.92,262.50 224.20,263.70 C225.48,264.90 226.65,266.18 228.10,267.50 C229.55,268.82 231.75,270.67 232.90,271.60 C234.05,272.53 233.87,272.27 235.00,273.10 C236.13,273.93 237.83,275.60 239.70,276.60 C241.57,277.60 243.90,278.37 246.20,279.10 C248.50,279.83 250.70,280.45 253.50,281.00 C256.30,281.55 259.87,281.93 263.00,282.40 C266.13,282.87 269.73,283.45 272.30,283.80 C274.87,284.15 275.28,284.08 278.40,284.50 C281.52,284.92 286.95,285.80 291.00,286.30 C295.05,286.80 300.75,287.30 302.70,287.50" fill="none" stroke="#9933cc" stroke-width="1.1" stroke-linejoin="round" stroke-linecap="round"/>
<path d="M37.00,298.00 C40.83,297.87 54.83,297.47 60.00,297.20 C65.17,296.93 65.60,296.43 68.00,296.40 C70.40,296.37 72.40,296.80 74.40,297.00 C76.40,297.20 78.00,297.70 80.00,297.60 C82.00,297.50 84.40,296.80 86.40,296.40 C88.40,296.00 90.53,295.47 92.00,295.20 C93.47,294.93 94.27,295.57 95.20,294.80 C96.13,294.03 96.80,291.20 97.60,290.60 C98.40,290.00 99.20,291.33 100.00,291.20 C100.80,291.07 101.60,290.13 102.40,289.80 C103.20,289.47 103.87,289.30 104.80,289.20 C105.73,289.10 106.80,289.53 108.00,289.20 C109.20,288.87 110.67,288.03 112.00,287.20 C113.33,286.37 114.42,285.27 116.00,284.20 C117.58,283.13 119.45,282.17 121.50,280.80 C123.55,279.43 126.53,277.60 128.30,276.00 C130.07,274.40 130.67,272.97 132.10,271.20 C133.53,269.43 135.45,267.33 136.90,265.40 C138.35,263.47 139.60,261.37 140.80,259.60 C142.00,257.83 142.82,256.17 144.10,254.80 C145.38,253.43 147.37,252.20 148.50,251.40 C149.63,250.60 149.95,250.55 150.90,250.00 C151.85,249.45 153.00,249.22 154.20,248.10 C155.40,246.98 156.82,244.90 158.10,243.30 C159.38,241.70 160.78,240.57 161.90,238.50 C163.02,236.43 163.92,233.40 164.80,230.90 C165.68,228.40 166.47,225.53 167.20,223.50 C167.93,221.47 168.53,220.72 169.20,218.70 C169.87,216.68 170.67,213.12 171.20,211.40 C171.73,209.68 171.73,209.47 172.40,208.40 C173.07,207.33 174.53,206.63 175.20,205.00 C175.87,203.37 176.00,200.07 176.40,198.60 C176.80,197.13 177.13,196.80 177.60,196.20 C178.07,195.60 178.73,195.53 179.20,195.00 C179.67,194.47 180.00,194.40 180.40,193.00 C180.80,191.60 181.18,186.73 181.60,186.60 C182.02,186.47 182.28,191.00 182.90,192.20 C183.52,193.40 184.63,193.87 185.30,193.80 C185.97,193.73 186.30,191.80 186.90,191.80 C187.50,191.80 188.23,192.67 188.90,193.80 C189.57,194.93 190.30,196.73 190.90,198.60 C191.50,200.47 191.90,202.20 192.50,205.00 C193.10,207.80 193.87,211.73 194.50,215.40 C195.13,219.07 195.67,222.97 196.30,227.00 C196.93,231.03 197.48,235.90 198.30,239.60 C199.12,243.30 200.25,246.32 201.20,249.20 C202.15,252.08 203.05,254.65 204.00,256.90 C204.95,259.15 205.93,261.10 206.90,262.70 C207.87,264.30 208.52,265.38 209.80,266.50 C211.08,267.62 212.83,268.35 214.60,269.40 C216.37,270.45 218.47,271.60 220.40,272.80 C222.33,274.00 224.12,275.48 226.20,276.60 C228.28,277.72 230.60,278.65 232.90,279.50 C235.20,280.35 238.10,281.13 240.00,281.70 C241.90,282.27 242.05,282.32 244.30,282.90 C246.55,283.48 250.38,284.50 253.50,285.20 C256.62,285.90 258.85,286.55 263.00,287.10 C267.15,287.65 273.73,288.07 278.40,288.50 C283.07,288.93 286.95,289.32 291.00,289.70 C295.05,290.08 300.75,290.62 302.70,290.80" fill="none" stroke="#5b9bd5" stroke-width="1.1" stroke-linejoin="round" stroke-linecap="round"/>
<path d="M437.5,48.1 438.5,48.1 439.5,48.1 440.5,48.1 441.5,48.1 442.5,48.1 443.5,48.1 444.5,48.1 445.5,48.1 446.5,48.1 447.5,48.1 448.5,48.1 449.5,48.1 450.6,48.1 451.6,48.1 452.6,48.1 453.6,48.1 454.6,48.1 455.6,48.1 456.6,48.1 457.6,48.1 458.6,48.1 459.6,48.1 460.6,48.1 461.6,48.1 462.6,48.1 463.6,48.1 464.6,48.1 465.6,48.1 466.6,48.1 467.6,48.1 468.6,48.1 469.6,48.2 470.6,48.2 471.6,48.2 472.6,48.2 473.6,48.2 474.6,48.2 475.6,48.2 476.7,48.2 477.7,48.2 478.7,48.2 479.7,48.2 480.7,48.2 481.7,48.2 482.7,48.2 483.7,48.2 484.7,48.3 485.7,48.3 486.7,48.3 487.7,48.3 488.7,48.4 489.7,48.4 490.7,48.4 491.7,48.5 492.7,48.5 493.7,48.5 494.7,48.6 495.7,48.7 496.7,48.7 497.7,48.8 498.7,48.8 499.7,48.9 500.7,49.0 501.7,49.1 502.7,49.2 503.7,49.3 504.7,49.4 505.7,49.5 506.7,49.6 507.7,49.8 508.7,49.9 509.7,50.1 510.7,50.3 511.7,50.5 512.6,50.7 513.6,50.9 514.6,51.2 515.5,51.5 516.5,51.8 517.4,52.1 518.4,52.4 519.3,52.8 520.2,53.2 521.1,53.6 522.1,54.0 523.0,54.4 523.9,54.9 524.8,55.3 525.6,55.8 526.5,56.3 527.4,56.8 528.3,57.3 529.1,57.8 530.0,58.3 530.8,58.8 531.7,59.4 532.5,60.0 533.3,60.6 534.1,61.2 534.8,61.8 535.6,62.5 536.4,63.1 537.1,63.8 537.8,64.5 538.5,65.2 539.2,65.9 539.9,66.7 540.6,67.4 541.3,68.1 541.9,68.9 542.6,69.7 543.2,70.4 543.9,71.2 544.5,72.0 545.1,72.8 545.8,73.6 546.4,74.4 547.0,75.2 547.5,76.0 548.1,76.8 548.7,77.6 549.3,78.4 549.9,79.3 550.4,80.1 551.0,80.9 551.5,81.8 552.1,82.6 552.6,83.4 553.2,84.3 553.7,85.1 554.3,86.0 554.8,86.8 555.3,87.7 555.8,88.5 556.3,89.4 556.8,90.3 557.3,91.1 557.8,92.0 558.3,92.9 558.8,93.8 559.2,94.7 559.7,95.6 560.1,96.5 560.5,97.4 560.9,98.3 561.3,99.2 561.7,100.2 562.1,101.1 562.5,102.0 562.9,102.9 563.3,103.9 563.6,104.8 564.0,105.7 564.3,106.7 564.7,107.6 565.0,108.6 565.4,109.5 565.7,110.5 566.1,111.4 566.4,112.3 566.8,113.3 567.1,114.2 567.5,115.2 567.8,116.1 568.2,117.0 568.5,118.0 568.9,118.9 569.2,119.9 569.5,120.8 569.9,121.8 570.2,122.7 570.5,123.7 570.8,124.6 571.2,125.6 571.5,126.5 571.8,127.5 572.1,128.4 572.5,129.4 572.8,130.3 573.1,131.3 573.5,132.2 573.8,133.2 574.1,134.1 574.5,135.0 574.8,136.0 575.1,136.9 575.4,137.9 575.8,138.8 576.1,139.8 576.4,140.7 576.7,141.7 577.1,142.6 577.4,143.6 577.7,144.5 578.1,145.5 578.4,146.4 578.8,147.4 579.1,148.3 579.5,149.2 579.9,150.2 580.2,151.1 580.6,152.0 581.0,152.9 581.5,153.8 581.9,154.7 582.4,155.6 582.9,156.5 583.4,157.3 584.0,158.2 584.5,159.0 585.1,159.8 585.8,160.6 586.4,161.3 587.1,162.1 587.8,162.8 588.5,163.5 589.2,164.2 590.0,164.8 590.7,165.5 591.5,166.1 592.3,166.8 593.1,167.4 593.9,168.0 594.7,168.6 595.5,169.1 596.3,169.7 597.2,170.3 598.0,170.8 598.9,171.3 599.7,171.9 600.6,172.4 601.4,173.0 602.3,173.5 603.1,174.0 604.0,174.5 604.8,175.1 605.7,175.6 606.5,176.1 607.4,176.6 608.3,177.1 609.1,177.7 610.0,178.2 610.9,178.7 611.7,179.2 612.6,179.7 613.4,180.2 614.3,180.7 615.2,181.2 616.0,181.7 616.9,182.3 617.7,182.8 618.6,183.3 619.5,183.8 620.3,184.3 621.2,184.8 622.1,185.3 623.0,185.8 623.8,186.3 624.7,186.7 625.6,187.2 626.5,187.6 627.4,188.0 628.4,188.4 629.3,188.8 630.2,189.2 631.2,189.6 632.1,189.9 633.0,190.3 634.0,190.6 634.9,190.9 635.9,191.3 636.8,191.6 637.8,191.9 638.7,192.2 639.7,192.5 640.6,192.8 641.6,193.1 642.6,193.4 643.5,193.7 644.5,194.0 645.4,194.3 646.4,194.6 647.4,194.9 648.3,195.1 649.3,195.4 650.3,195.7 651.2,196.0 652.2,196.2 653.2,196.5 654.1,196.7 655.1,197.0 656.1,197.2 657.1,197.5 658.0,197.7 659.0,197.9 660.0,198.2 661.0,198.4 662.0,198.6 662.9,198.8 663.9,199.0 664.9,199.2 665.9,199.4 666.9,199.6 667.8,199.8 668.8,200.0 669.8,200.2 670.8,200.4 671.8,200.6 672.8,200.8 673.8,201.0 674.7,201.2 675.7,201.4 676.7,201.5 677.7,201.7 678.7,201.9 679.7,202.1 680.7,202.2 681.7,202.4 682.7,202.6 683.6,202.7 684.6,202.9 685.6,203.1 686.6,203.2 687.6,203.4 688.6,203.5 689.6,203.7 690.6,203.8 691.6,204.0 692.6,204.1 693.6,204.3 694.6,204.4 695.5,204.6 696.5,204.7 697.5,204.9 698.5,205.0 699.5,205.2 700.5,205.3 701.5,205.5" fill="none" stroke="#222222" stroke-width="1.2" stroke-linejoin="round" stroke-linecap="round"/>
<path d="M437.5,48.1 438.5,48.1 439.5,48.1 440.5,48.1 441.5,48.1 442.5,48.1 443.5,48.1 444.5,48.1 445.5,48.1 446.6,48.1 447.6,48.1 448.6,48.1 449.6,48.1 450.6,48.1 451.6,48.1 452.6,48.1 453.6,48.1 454.6,48.1 455.6,48.1 456.6,48.1 457.6,48.1 458.6,48.1 459.6,48.1 460.6,48.1 461.6,48.1 462.6,48.1 463.7,48.1 464.7,48.1 465.7,48.1 466.7,48.1 467.6,48.1 468.6,48.2 469.6,48.3 470.5,48.4 471.5,48.6 472.4,48.8 473.4,49.0 474.3,49.3 475.3,49.6 476.2,50.0 477.1,50.3 478.1,50.7 479.0,51.1 479.9,51.4 480.8,51.8 481.8,52.2 482.7,52.6 483.6,53.0 484.5,53.4 485.5,53.8 486.4,54.2 487.3,54.6 488.2,55.0 489.1,55.4 490.1,55.8 491.0,56.3 491.9,56.7 492.8,57.1 493.7,57.5 494.7,57.9 495.6,58.3 496.5,58.7 497.4,59.1 498.4,59.4 499.3,59.8 500.2,60.2 501.1,60.7 502.0,61.1 503.0,61.5 503.9,61.9 504.8,62.4 505.7,62.8 506.5,63.3 507.4,63.8 508.3,64.3 509.2,64.8 510.0,65.3 510.9,65.8 511.7,66.4 512.6,66.9 513.4,67.5 514.3,68.0 515.1,68.6 515.9,69.1 516.8,69.7 517.6,70.3 518.4,70.9 519.2,71.5 520.0,72.1 520.8,72.7 521.6,73.3 522.4,73.9 523.2,74.5 524.0,75.2 524.8,75.8 525.5,76.4 526.3,77.1 527.1,77.7 527.9,78.4 528.6,79.0 529.4,79.6 530.2,80.3 531.0,80.9 531.8,81.5 532.6,82.1 533.4,82.7 534.2,83.3 535.0,84.0 535.8,84.6 536.6,85.1 537.4,85.7 538.2,86.3 539.0,86.9 539.9,87.5 540.7,88.1 541.5,88.6 542.3,89.2 543.2,89.8 544.0,90.4 544.8,90.9 545.6,91.5 546.4,92.1 547.2,92.8 548.0,93.4 548.7,94.1 549.4,94.8 550.2,95.5 550.9,96.2 551.5,96.9 552.2,97.7 552.9,98.4 553.6,99.2 554.2,99.9 554.9,100.7 555.5,101.5 556.2,102.2 556.8,103.0 557.5,103.8 558.1,104.5 558.8,105.3 559.4,106.1 560.0,106.9 560.6,107.7 561.3,108.5 561.9,109.3 562.5,110.1 563.1,110.9 563.7,111.7 564.3,112.5 564.9,113.3 565.5,114.1 566.2,114.9 566.8,115.6 567.4,116.4 568.0,117.2 568.6,118.0 569.2,118.9 569.8,119.7 570.4,120.5 571.0,121.3 571.6,122.1 572.1,122.9 572.7,123.8 573.3,124.6 573.9,125.4 574.4,126.2 575.0,127.1 575.6,127.9 576.2,128.7 576.8,129.5 577.4,130.3 578.0,131.1 578.6,131.9 579.2,132.7 579.8,133.5 580.5,134.3 581.1,135.1 581.8,135.8 582.4,136.6 583.1,137.4 583.7,138.1 584.4,138.9 585.1,139.6 585.7,140.4 586.4,141.1 587.0,141.9 587.7,142.6 588.4,143.4 589.0,144.2 589.7,144.9 590.4,145.7 591.0,146.4 591.7,147.2 592.4,147.9 593.0,148.7 593.7,149.4 594.4,150.1 595.1,150.9 595.8,151.6 596.5,152.3 597.3,152.9 598.0,153.6 598.8,154.3 599.6,154.9 600.4,155.5 601.2,156.1 602.0,156.7 602.8,157.2 603.7,157.8 604.5,158.3 605.4,158.8 606.3,159.3 607.1,159.8 608.0,160.3 608.9,160.8 609.8,161.3 610.7,161.7 611.6,162.2 612.5,162.6 613.4,163.1 614.3,163.5 615.2,163.9 616.1,164.3 617.1,164.7 618.0,165.0 618.9,165.4 619.9,165.8 620.8,166.1 621.7,166.5 622.7,166.9 623.6,167.3 624.5,167.6 625.5,168.0 626.4,168.4 627.3,168.8 628.3,169.1 629.2,169.5 630.2,169.8 631.1,170.2 632.1,170.5 633.0,170.8 634.0,171.1 634.9,171.4 635.9,171.8 636.8,172.1 637.8,172.4 638.7,172.7 639.7,173.0 640.7,173.3 641.6,173.6 642.6,173.9 643.5,174.2 644.5,174.5 645.5,174.8 646.4,175.1 647.4,175.4 648.3,175.7 649.3,176.0 650.3,176.3 651.2,176.5 652.2,176.8 653.2,177.1 654.1,177.4 655.1,177.6 656.1,177.9 657.1,178.1 658.0,178.4 659.0,178.7 660.0,178.9 661.0,179.2 661.9,179.4 662.9,179.6 663.9,179.9 664.9,180.1 665.8,180.4 666.8,180.6 667.8,180.8 668.8,181.0 669.8,181.3 670.7,181.5 671.7,181.7 672.7,181.9 673.7,182.1 674.7,182.3 675.7,182.5 676.6,182.7 677.6,182.9 678.6,183.1 679.6,183.3 680.6,183.4 681.6,183.6 682.6,183.8 683.6,183.9 684.6,184.1 685.6,184.2 686.6,184.4 687.6,184.5 688.6,184.7 689.5,184.8 690.5,185.0 691.5,185.1 692.5,185.3 693.5,185.4 694.5,185.5 695.5,185.7 696.5,185.8 697.5,185.9 698.5,186.1 699.5,186.2 700.5,186.4 701.5,186.5" fill="none" stroke="#3d5f2e" stroke-width="1.2" stroke-linejoin="round" stroke-linecap="round"/>
<path d="M437.5,48.1 438.5,48.1 439.5,48.1 440.5,48.1 441.5,48.1 442.5,48.1 443.5,48.1 444.5,48.1 445.5,48.1 446.5,48.1 447.6,48.1 448.6,48.1 449.6,48.1 450.6,48.1 451.6,48.1 452.6,48.1 453.6,48.1 454.6,48.1 455.6,48.1 456.6,48.1 457.6,48.1 458.6,48.1 459.6,48.1 460.6,48.1 461.6,48.1 462.6,48.1 463.6,48.1 464.6,48.1 465.6,48.1 466.6,48.1 467.6,48.1 468.6,48.2 469.6,48.2 470.6,48.3 471.5,48.5 472.5,48.6 473.4,48.8 474.4,49.1 475.3,49.4 476.3,49.6 477.2,49.9 478.2,50.3 479.1,50.6 480.1,50.9 481.0,51.2 482.0,51.5 483.0,51.8 483.9,52.1 484.9,52.5 485.8,52.8 486.8,53.1 487.7,53.4 488.7,53.7 489.6,54.0 490.6,54.4 491.5,54.7 492.5,55.0 493.4,55.4 494.4,55.7 495.3,56.0 496.3,56.4 497.2,56.7 498.2,57.1 499.1,57.4 500.0,57.8 501.0,58.2 501.9,58.6 502.8,58.9 503.7,59.4 504.6,59.8 505.5,60.2 506.4,60.7 507.3,61.1 508.2,61.6 509.1,62.1 510.0,62.6 510.8,63.1 511.7,63.7 512.5,64.2 513.4,64.8 514.2,65.3 515.0,65.9 515.9,66.4 516.7,67.0 517.5,67.6 518.3,68.2 519.2,68.7 520.0,69.3 520.8,69.9 521.6,70.5 522.4,71.1 523.3,71.6 524.1,72.2 524.9,72.8 525.7,73.4 526.5,74.1 527.3,74.7 528.1,75.3 528.9,75.9 529.7,76.5 530.4,77.1 531.2,77.8 532.0,78.4 532.8,79.0 533.6,79.7 534.3,80.3 535.1,81.0 535.9,81.6 536.6,82.3 537.4,82.9 538.2,83.5 539.0,84.2 539.8,84.8 540.5,85.4 541.3,86.0 542.1,86.7 542.9,87.3 543.7,87.9 544.5,88.5 545.3,89.1 546.1,89.8 546.8,90.4 547.6,91.1 548.3,91.8 549.1,92.4 549.8,93.2 550.5,93.9 551.1,94.6 551.8,95.4 552.4,96.2 553.1,96.9 553.7,97.7 554.3,98.5 555.0,99.3 555.6,100.1 556.2,100.8 556.9,101.6 557.5,102.4 558.2,103.2 558.8,103.9 559.4,104.7 560.1,105.5 560.7,106.3 561.4,107.0 562.0,107.8 562.6,108.6 563.3,109.4 563.9,110.1 564.5,110.9 565.2,111.7 565.8,112.5 566.4,113.3 567.0,114.1 567.6,114.9 568.3,115.7 568.9,116.5 569.5,117.3 570.1,118.1 570.7,118.9 571.3,119.7 571.9,120.5 572.5,121.3 573.1,122.1 573.7,122.9 574.3,123.7 574.9,124.5 575.5,125.3 576.1,126.1 576.7,126.9 577.3,127.8 577.9,128.6 578.4,129.4 579.0,130.2 579.6,131.0 580.2,131.8 580.8,132.6 581.4,133.5 582.0,134.3 582.6,135.1 583.2,135.9 583.8,136.7 584.4,137.5 585.0,138.3 585.6,139.1 586.1,140.0 586.7,140.8 587.3,141.6 587.9,142.4 588.5,143.2 589.1,144.0 589.7,144.8 590.3,145.7 590.9,146.5 591.5,147.3 592.1,148.1 592.7,148.9 593.3,149.6 594.0,150.4 594.7,151.1 595.3,151.9 596.0,152.6 596.7,153.3 597.5,154.0 598.2,154.7 598.9,155.4 599.6,156.1 600.4,156.8 601.2,157.4 601.9,158.1 602.7,158.7 603.5,159.3 604.3,159.9 605.1,160.5 606.0,161.0 606.8,161.6 607.6,162.1 608.5,162.7 609.3,163.2 610.2,163.7 611.1,164.2 612.0,164.7 612.8,165.2 613.7,165.6 614.6,166.1 615.5,166.5 616.5,166.9 617.4,167.3 618.3,167.7 619.2,168.1 620.2,168.5 621.1,168.8 622.0,169.2 623.0,169.6 623.9,170.0 624.8,170.4 625.8,170.7 626.7,171.1 627.6,171.5 628.6,171.8 629.5,172.2 630.4,172.5 631.4,172.9 632.3,173.2 633.3,173.5 634.2,173.9 635.2,174.2 636.1,174.5 637.1,174.8 638.0,175.1 639.0,175.5 640.0,175.8 640.9,176.1 641.9,176.4 642.8,176.7 643.8,177.0 644.7,177.4 645.7,177.7 646.6,178.0 647.6,178.3 648.5,178.6 649.5,178.9 650.5,179.2 651.4,179.5 652.4,179.9 653.3,180.2 654.3,180.5 655.2,180.8 656.2,181.1 657.2,181.4 658.1,181.7 659.1,182.0 660.0,182.3 661.0,182.6 662.0,182.9 662.9,183.2 663.9,183.5 664.8,183.8 665.8,184.1 666.8,184.4 667.7,184.7 668.7,185.0 669.6,185.3 670.6,185.6 671.6,185.9 672.5,186.2 673.5,186.4 674.4,186.7 675.4,187.0 676.4,187.3 677.3,187.6 678.3,187.9 679.3,188.2 680.2,188.4 681.2,188.7 682.2,189.0 683.1,189.3 684.1,189.6 685.1,189.8 686.0,190.1 687.0,190.4 688.0,190.7 688.9,190.9 689.9,191.2 690.9,191.5 691.8,191.8 692.8,192.0 693.8,192.3 694.7,192.6 695.7,192.9 696.7,193.1 697.6,193.4 698.6,193.7 699.6,194.0 700.5,194.2 701.5,194.5" fill="none" stroke="#62b043" stroke-width="1.2" stroke-linejoin="round" stroke-linecap="round"/>
<path d="M440.00,298.30 C443.88,298.28 456.42,298.47 463.30,298.20 C470.18,297.93 476.17,297.13 481.30,296.70 C486.43,296.27 490.68,296.05 494.10,295.60 C497.52,295.15 499.45,294.67 501.80,294.00 C504.15,293.33 506.07,292.80 508.20,291.60 C510.33,290.40 512.47,288.80 514.60,286.80 C516.73,284.80 518.63,282.58 521.00,279.60 C523.37,276.62 525.88,273.35 528.80,268.90 C531.72,264.45 535.55,257.97 538.50,252.90 C541.45,247.83 544.10,243.32 546.50,238.50 C548.90,233.68 551.03,229.08 552.90,224.00 C554.77,218.92 556.52,212.45 557.70,208.00 C558.88,203.55 558.82,202.30 560.00,197.30 C561.18,192.30 563.33,184.95 564.80,178.00 C566.27,171.05 567.68,160.77 568.80,155.60 C569.92,150.43 570.70,148.73 571.50,147.00 C572.30,145.27 572.85,145.10 573.60,145.20 C574.35,145.30 575.20,145.60 576.00,147.60 C576.80,149.60 577.60,152.13 578.40,157.20 C579.20,162.27 580.12,170.87 580.80,178.00 C581.48,185.13 581.95,192.33 582.50,200.00 C583.05,207.67 583.30,216.52 584.10,224.00 C584.90,231.48 586.10,239.68 587.30,244.90 C588.50,250.12 589.55,252.63 591.30,255.30 C593.05,257.97 595.38,259.17 597.80,260.90 C600.22,262.63 603.43,264.35 605.80,265.70 C608.17,267.05 609.63,267.67 612.00,269.00 C614.37,270.33 617.27,272.07 620.00,273.70 C622.73,275.33 622.97,276.82 628.40,278.80 C633.83,280.78 644.45,283.92 652.60,285.60 C660.75,287.28 669.08,287.87 677.30,288.90 C685.52,289.93 697.80,291.32 701.90,291.80" fill="none" stroke="#222222" stroke-width="1.1" stroke-linejoin="round" stroke-linecap="round"/>
<path d="M439.00,298.20 C441.77,298.05 451.55,297.60 455.60,297.30 C459.65,297.00 461.15,296.88 463.30,296.40 C465.45,295.92 466.78,295.60 468.50,294.40 C470.22,293.20 471.90,291.55 473.60,289.20 C475.30,286.85 477.00,282.97 478.70,280.30 C480.40,277.63 482.30,274.70 483.80,273.20 C485.30,271.70 486.42,271.30 487.70,271.30 C488.98,271.30 490.22,272.35 491.50,273.20 C492.78,274.05 494.00,275.70 495.40,276.40 C496.80,277.10 498.40,277.50 499.90,277.40 C501.40,277.30 503.02,276.50 504.40,275.80 C505.78,275.10 506.27,274.88 508.20,273.20 C510.13,271.52 513.37,268.28 516.00,265.70 C518.63,263.12 521.87,258.98 524.00,257.70 C526.13,256.42 527.18,257.33 528.80,258.00 C530.42,258.67 532.08,260.47 533.70,261.70 C535.32,262.93 536.90,265.27 538.50,265.40 C540.10,265.53 541.43,264.58 543.30,262.50 C545.17,260.42 547.57,256.37 549.70,252.90 C551.83,249.43 553.97,245.45 556.10,241.70 C558.23,237.95 560.63,233.08 562.50,230.40 C564.37,227.72 565.70,226.67 567.30,225.60 C568.90,224.53 570.63,223.87 572.10,224.00 C573.57,224.13 574.77,224.78 576.10,226.40 C577.43,228.02 578.63,231.15 580.10,233.70 C581.57,236.25 583.30,238.50 584.90,241.70 C586.50,244.90 587.82,249.83 589.70,252.90 C591.58,255.97 593.78,258.10 596.20,260.10 C598.62,262.10 601.53,263.30 604.20,264.90 C606.87,266.50 609.57,268.10 612.20,269.70 C614.83,271.30 617.30,272.98 620.00,274.50 C622.70,276.02 622.97,276.95 628.40,278.80 C633.83,280.65 644.45,283.92 652.60,285.60 C660.75,287.28 669.08,287.87 677.30,288.90 C685.52,289.93 697.80,291.32 701.90,291.80" fill="none" stroke="#3d5f2e" stroke-width="1.1" stroke-linejoin="round" stroke-linecap="round"/>
<path d="M441.50,298.20 C443.85,298.05 451.97,297.60 455.60,297.30 C459.23,297.00 461.15,296.88 463.30,296.40 C465.45,295.92 466.78,295.60 468.50,294.40 C470.22,293.20 471.90,291.02 473.60,289.20 C475.30,287.38 477.00,285.03 478.70,283.50 C480.40,281.97 482.08,280.65 483.80,280.00 C485.52,279.35 487.28,279.52 489.00,279.60 C490.72,279.68 492.62,279.97 494.10,280.50 C495.58,281.03 496.83,282.03 497.90,282.80 C498.97,283.57 499.75,285.52 500.50,285.10 C501.25,284.68 501.75,281.32 502.40,280.30 C503.05,279.28 503.87,280.28 504.40,279.00 C504.93,277.72 505.07,273.47 505.60,272.60 C506.13,271.73 506.87,273.92 507.60,273.80 C508.33,273.68 509.40,272.72 510.00,271.90 C510.60,271.08 509.93,270.33 511.20,268.90 C512.47,267.47 515.47,264.32 517.60,263.30 C519.73,262.28 521.60,263.07 524.00,262.80 C526.40,262.53 529.58,262.33 532.00,261.70 C534.42,261.07 536.35,260.20 538.50,259.00 C540.65,257.80 542.77,256.05 544.90,254.50 C547.03,252.95 549.17,251.57 551.30,249.70 C553.43,247.83 555.57,245.43 557.70,243.30 C559.83,241.17 561.97,238.90 564.10,236.90 C566.23,234.90 568.37,233.32 570.50,231.30 C572.63,229.28 575.03,226.82 576.90,224.80 C578.77,222.78 580.43,220.35 581.70,219.20 C582.97,218.05 583.43,217.63 584.50,217.90 C585.57,218.17 586.83,218.72 588.10,220.80 C589.37,222.88 590.75,225.85 592.10,230.40 C593.45,234.95 594.72,243.95 596.20,248.10 C597.68,252.25 599.40,252.37 601.00,255.30 C602.60,258.23 604.47,262.77 605.80,265.70 C607.13,268.63 607.67,271.43 609.00,272.90 C610.33,274.37 611.97,274.07 613.80,274.50 C615.63,274.93 617.57,274.78 620.00,275.50 C622.43,276.22 622.97,277.68 628.40,278.80 C633.83,279.92 644.45,281.27 652.60,282.20 C660.75,283.13 669.08,283.65 677.30,284.40 C685.52,285.15 697.80,286.32 701.90,286.70" fill="none" stroke="#62b043" stroke-width="1.1" stroke-linejoin="round" stroke-linecap="round"/>
<line x1="225.0" y1="390.5" x2="225.0" y2="591.6" stroke="#222" stroke-width="1.3"/>
<line x1="224.3" y1="591.2" x2="555.6" y2="591.2" stroke="#222" stroke-width="1.3"/>
<line x1="222.3" y1="391.30" x2="225.0" y2="391.30" stroke="#222" stroke-width="1.1"/>
<text x="198.37" y="394.90" font-size="10.29" fill="#111" textLength="23.41" lengthAdjust="spacingAndGlyphs">-180</text>
<line x1="222.3" y1="441.30" x2="225.0" y2="441.30" stroke="#222" stroke-width="1.1"/>
<text x="198.37" y="444.90" font-size="10.29" fill="#111" textLength="23.41" lengthAdjust="spacingAndGlyphs">-330</text>
<line x1="222.3" y1="491.30" x2="225.0" y2="491.30" stroke="#222" stroke-width="1.1"/>
<text x="198.37" y="494.90" font-size="10.29" fill="#111" textLength="23.41" lengthAdjust="spacingAndGlyphs">-480</text>
<line x1="222.3" y1="541.30" x2="225.0" y2="541.30" stroke="#222" stroke-width="1.1"/>
<text x="198.37" y="544.90" font-size="10.29" fill="#111" textLength="23.41" lengthAdjust="spacingAndGlyphs">-630</text>
<line x1="222.3" y1="591.30" x2="225.0" y2="591.30" stroke="#222" stroke-width="1.1"/>
<text x="198.37" y="594.90" font-size="10.29" fill="#111" textLength="23.41" lengthAdjust="spacingAndGlyphs">-780</text>
<line x1="224.90" y1="591.2" x2="224.90" y2="593.4" stroke="#222" stroke-width="1.1"/>
<text x="220.03" y="605.00" font-size="11.14" fill="#111" textLength="12.96" lengthAdjust="spacingAndGlyphs">30</text>
<line x1="263.82" y1="591.2" x2="263.82" y2="593.4" stroke="#222" stroke-width="1.1"/>
<text x="258.95" y="605.00" font-size="11.14" fill="#111" textLength="12.96" lengthAdjust="spacingAndGlyphs">50</text>
<line x1="302.74" y1="591.2" x2="302.74" y2="593.4" stroke="#222" stroke-width="1.1"/>
<text x="297.75" y="605.00" font-size="11.14" fill="#111" textLength="13.09" lengthAdjust="spacingAndGlyphs">70</text>
<line x1="341.66" y1="591.2" x2="341.66" y2="593.4" stroke="#222" stroke-width="1.1"/>
<text x="336.73" y="605.00" font-size="11.14" fill="#111" textLength="13.02" lengthAdjust="spacingAndGlyphs">90</text>
<line x1="380.58" y1="591.2" x2="380.58" y2="593.4" stroke="#222" stroke-width="1.1"/>
<text x="372.49" y="605.00" font-size="11.14" fill="#111" textLength="18.96" lengthAdjust="spacingAndGlyphs">110</text>
<line x1="419.50" y1="591.2" x2="419.50" y2="593.4" stroke="#222" stroke-width="1.1"/>
<text x="411.45" y="605.00" font-size="11.14" fill="#111" textLength="18.95" lengthAdjust="spacingAndGlyphs">130</text>
<line x1="458.42" y1="591.2" x2="458.42" y2="593.4" stroke="#222" stroke-width="1.1"/>
<text x="450.37" y="605.00" font-size="11.14" fill="#111" textLength="18.95" lengthAdjust="spacingAndGlyphs">150</text>
<line x1="497.34" y1="591.2" x2="497.34" y2="593.4" stroke="#222" stroke-width="1.1"/>
<text x="489.29" y="605.00" font-size="11.14" fill="#111" textLength="18.95" lengthAdjust="spacingAndGlyphs">170</text>
<line x1="536.26" y1="591.2" x2="536.26" y2="593.4" stroke="#222" stroke-width="1.1"/>
<text x="528.21" y="605.00" font-size="11.14" fill="#111" textLength="18.95" lengthAdjust="spacingAndGlyphs">190</text>
<text x="356.52" y="621.20" font-size="11.03" fill="#111" textLength="87.42" lengthAdjust="spacingAndGlyphs">Temperature (°C)</text>
<text x="244.96" y="376.30" font-size="13.93" fill="#111" textLength="15.60" lengthAdjust="spacingAndGlyphs">C)</text>
<g transform="translate(195.2,474.3) rotate(-90)">
<text x="-32.82" y="0.00" font-size="11.86" fill="#111" textLength="65.44" lengthAdjust="spacingAndGlyphs">Heat (mW/g)</text>
</g>
<path d="M225.0,396.2 226.0,396.4 227.0,396.5 228.0,396.7 229.0,396.9 230.0,397.0 230.9,397.2 231.9,397.4 232.9,397.5 233.9,397.7 234.9,397.9 235.9,398.0 236.9,398.2 237.9,398.4 238.9,398.5 239.9,398.7 240.8,398.9 241.8,399.0 242.8,399.2 243.8,399.4 244.8,399.5 245.8,399.7 246.8,399.8 247.8,400.0 248.8,400.2 249.8,400.3 250.8,400.5 251.7,400.6 252.7,400.8 253.7,400.9 254.7,401.1 255.7,401.3 256.7,401.4 257.7,401.6 258.7,401.7 259.7,401.9 260.7,402.0 261.7,402.2 262.7,402.3 263.7,402.5 264.7,402.6 265.6,402.8 266.6,402.9 267.6,403.1 268.6,403.2 269.6,403.4 270.6,403.5 271.6,403.7 272.6,403.8 273.6,404.0 274.6,404.1 275.6,404.3 276.6,404.4 277.6,404.6 278.6,404.7 279.5,404.9 280.5,405.0 281.5,405.2 282.5,405.3 283.5,405.5 284.5,405.6 285.5,405.8 286.5,405.9 287.5,406.0 288.5,406.2 289.5,406.3 290.5,406.5 291.5,406.6 292.5,406.8 293.5,406.9 294.5,407.0 295.4,407.2 296.4,407.3 297.4,407.5 298.4,407.6 299.4,407.7 300.4,407.9 301.4,408.0 302.4,408.2 303.4,408.3 304.4,408.4 305.4,408.6 306.4,408.7 307.4,408.8 308.4,409.0 309.4,409.1 310.4,409.2 311.4,409.4 312.4,409.5 313.4,409.6 314.4,409.8 315.3,409.9 316.3,410.0 317.3,410.1 318.3,410.3 319.3,410.4 320.3,410.5 321.3,410.6 322.3,410.7 323.3,410.8 324.3,410.9 325.3,411.0 326.3,411.1 327.3,411.2 328.3,411.3 329.3,411.4 330.3,411.5 331.3,411.6 332.3,411.6 333.3,411.7 334.3,411.8 335.3,411.9 336.3,412.0 337.3,412.1 338.3,412.2 339.3,412.3 340.3,412.5 341.3,412.6 342.3,412.7 343.3,412.8 344.3,413.0 345.3,413.1 346.3,413.3 347.3,413.4 348.3,413.5 349.3,413.7 350.3,413.8 351.3,414.0 352.3,414.1 353.2,414.3 354.2,414.4 355.2,414.6 356.2,414.7 357.2,414.9 358.2,415.0 359.2,415.2 360.2,415.3 361.2,415.5 362.2,415.6 363.2,415.8 364.2,415.9 365.2,416.1 366.2,416.2 367.2,416.4 368.1,416.5 369.1,416.7 370.1,416.8 371.1,416.9 372.1,417.1 373.1,417.2 374.1,417.4 375.1,417.5 376.1,417.7 377.1,417.8 378.1,418.0 379.1,418.1 380.1,418.3 381.1,418.4 382.1,418.6 383.0,418.7 384.0,418.9 385.0,419.0 386.0,419.2 387.0,419.3 388.0,419.5 389.0,419.7 390.0,419.8 391.0,420.0 392.0,420.1 393.0,420.3 394.0,420.5 394.9,420.6 395.9,420.8 396.9,420.9 397.9,421.1 398.9,421.3 399.9,421.4 400.9,421.6 401.9,421.7 402.9,421.9 403.9,422.1 404.9,422.3 405.8,422.4 406.8,422.6 407.8,422.8 408.8,422.9 409.8,423.1 410.8,423.3 411.8,423.5 412.8,423.6 413.8,423.8 414.7,424.0 415.7,424.2 416.7,424.4 417.7,424.6 418.7,424.8 419.7,425.0 420.7,425.2 421.6,425.3 422.6,425.5 423.6,425.7 424.6,425.9 425.6,426.1 426.6,426.3 427.6,426.5 428.5,426.7 429.5,426.9 430.5,427.1 431.5,427.3 432.5,427.5 433.5,427.7 434.5,427.9 435.4,428.1 436.4,428.3 437.4,428.5 438.4,428.7 439.4,428.8 440.4,429.0 441.4,429.2 442.3,429.4 443.3,429.6 444.3,429.8 445.3,430.0 446.3,430.2 447.3,430.4 448.3,430.5 449.2,430.7 450.2,430.9 451.2,431.1 452.2,431.3 453.2,431.5 454.2,431.8 455.1,432.0 456.1,432.2 457.1,432.5 458.1,432.7 459.0,433.0 460.0,433.3 461.0,433.5 461.9,433.8 462.9,434.1 463.8,434.4 464.8,434.7 465.7,435.1 466.7,435.4 467.6,435.7 468.6,436.0 469.5,436.3 470.5,436.7 471.4,437.0 472.4,437.3 473.3,437.7 474.3,438.0 475.2,438.4 476.2,438.7 477.1,439.1 478.0,439.4 479.0,439.7 479.9,440.1 480.9,440.4 481.8,440.8 482.8,441.1 483.7,441.4 484.7,441.8 485.6,442.1 486.6,442.4 487.5,442.7 488.5,443.0 489.4,443.3 490.4,443.6 491.4,443.9 492.3,444.2 493.3,444.5 494.3,444.7 495.2,445.0 496.2,445.3 497.2,445.6 498.1,445.8 499.1,446.1 500.1,446.4 501.0,446.6 502.0,446.9 503.0,447.1 504.0,447.4 504.9,447.6 505.9,447.8 506.9,448.0 507.9,448.3 508.8,448.5 509.8,448.7 510.8,448.9 511.8,449.1 512.8,449.3 513.8,449.5 514.7,449.7 515.7,449.9 516.7,450.1 517.7,450.2 518.7,450.4 519.7,450.6 520.7,450.8 521.7,450.9 522.7,451.1 523.7,451.2 524.6,451.4 525.6,451.5 526.6,451.7 527.6,451.9 528.6,452.0 529.6,452.1 530.6,452.3 531.6,452.4 532.6,452.6 533.6,452.7 534.6,452.9 535.6,453.0 536.6,453.1 537.6,453.3 538.6,453.4 539.6,453.6 540.5,453.7 541.5,453.8 542.5,453.9 543.5,454.1 544.5,454.2 545.5,454.3 546.5,454.5 547.5,454.6 548.5,454.7 549.5,454.8 550.5,454.9 551.5,455.0 552.5,455.2 553.5,455.3 554.5,455.4 555.5,455.5 556.5,455.6" fill="none" stroke="#222" stroke-width="1.2" stroke-linejoin="round" stroke-linecap="round"/>
<path d="M225.0,427.4 226.0,427.5 227.0,427.7 228.0,427.8 229.0,427.9 230.0,428.0 231.0,428.2 232.0,428.3 233.0,428.4 234.0,428.6 235.0,428.7 236.0,428.8 237.0,428.9 237.9,429.1 238.9,429.2 239.9,429.4 240.9,429.5 241.9,429.7 242.9,429.8 243.9,430.0 244.9,430.1 245.9,430.3 246.9,430.4 247.9,430.6 248.9,430.8 249.9,430.9 250.8,431.1 251.8,431.3 252.8,431.4 253.8,431.5 254.8,431.7 255.8,431.8 256.8,431.9 257.8,432.1 258.8,432.2 259.8,432.3 260.8,432.4 261.8,432.5 262.8,432.5 263.8,432.6 264.8,432.7 265.8,432.8 266.8,432.8 267.8,432.9 268.8,433.0 269.8,433.0 270.8,433.1 271.8,433.1 272.8,433.2 273.8,433.2 274.8,433.2 275.8,433.3 276.8,433.3 277.8,433.3 278.9,433.3 279.9,433.3 280.9,433.3 281.9,433.3 282.9,433.3 283.9,433.4 284.9,433.4 285.9,433.5 286.9,433.5 287.9,433.6 288.9,433.7 289.9,433.8 290.9,433.9 291.9,434.0 292.9,434.1 293.9,434.2 294.9,434.3 295.9,434.5 296.9,434.6 297.9,434.7 298.9,434.8 299.9,434.9 300.9,435.0 301.9,435.1 302.9,435.2 303.9,435.3 304.9,435.4 305.9,435.5 306.9,435.6 307.9,435.7 308.8,435.8 309.8,435.9 310.8,436.0 311.8,436.2 312.8,436.3 313.8,436.4 314.8,436.6 315.8,436.7 316.8,436.9 317.8,437.0 318.8,437.2 319.8,437.4 320.8,437.5 321.8,437.7 322.7,437.9 323.7,438.1 324.7,438.3 325.7,438.5 326.7,438.7 327.7,438.9 328.7,439.1 329.6,439.3 330.6,439.5 331.6,439.7 332.6,440.0 333.5,440.2 334.5,440.5 335.5,440.8 336.4,441.0 337.4,441.3 338.4,441.6 339.3,441.9 340.3,442.2 341.2,442.6 342.2,442.9 343.1,443.2 344.1,443.6 345.0,444.0 345.9,444.3 346.8,444.7 347.7,445.2 348.6,445.6 349.5,446.1 350.4,446.5 351.3,447.0 352.2,447.5 353.0,448.0 353.9,448.5 354.7,449.1 355.6,449.6 356.4,450.2 357.2,450.8 358.0,451.4 358.8,452.0 359.6,452.6 360.4,453.2 361.2,453.8 362.0,454.4 362.8,455.0 363.6,455.7 364.4,456.3 365.2,456.9 366.0,457.5 366.8,458.1 367.6,458.6 368.5,459.2 369.3,459.8 370.1,460.3 371.0,460.9 371.8,461.4 372.7,461.9 373.6,462.4 374.5,462.8 375.4,463.3 376.3,463.7 377.2,464.1 378.1,464.5 379.1,464.8 380.0,465.2 380.9,465.5 381.9,465.8 382.9,466.0 383.8,466.2 384.8,466.4 385.8,466.6 386.8,466.8 387.8,466.9 388.8,467.0 389.8,467.1 390.8,467.2 391.8,467.3 392.8,467.3 393.8,467.4 394.8,467.5 395.8,467.5 396.8,467.6 397.8,467.6 398.8,467.7 399.8,467.7 400.8,467.8 401.8,467.8 402.8,467.8 403.8,467.9 404.8,467.9 405.8,468.0 406.8,468.0 407.8,468.1 408.8,468.1 409.8,468.2 410.9,468.2 411.9,468.3 412.9,468.3 413.9,468.4 414.9,468.4 415.9,468.5 416.9,468.5 417.9,468.6 418.9,468.6 419.9,468.7 420.9,468.7 421.9,468.8 422.9,468.8 423.9,468.9 424.9,468.9 425.9,469.0 426.9,469.1 427.9,469.1 428.9,469.2 429.9,469.2 430.9,469.3 431.9,469.3 432.9,469.4 433.9,469.4 434.9,469.4 435.9,469.5 436.9,469.5 437.9,469.6 438.9,469.6 439.9,469.7 440.9,469.7 441.9,469.8 443.0,469.8 444.0,469.8 445.0,469.9 446.0,469.9 447.0,470.0 448.0,470.0 449.0,470.1 450.0,470.1 451.0,470.1 452.0,470.2 453.0,470.2 454.0,470.3 455.0,470.3 456.0,470.3 457.0,470.4 458.0,470.4 459.0,470.4 460.0,470.5 461.0,470.5 462.0,470.6 463.0,470.6 464.0,470.6 465.0,470.7 466.0,470.7 467.0,470.7 468.0,470.8 469.0,470.8 470.0,470.8 471.1,470.9 472.1,470.9 473.1,471.0 474.1,471.0 475.1,471.0 476.1,471.1 477.1,471.1 478.1,471.1 479.1,471.2 480.1,471.2 481.1,471.2 482.1,471.3 483.1,471.3 484.1,471.3 485.1,471.4 486.1,471.4 487.1,471.4 488.1,471.4 489.1,471.5 490.1,471.5 491.1,471.5 492.1,471.5 493.1,471.5 494.1,471.6 495.1,471.6 496.1,471.6 497.2,471.6 498.2,471.6 499.2,471.6 500.2,471.6 501.2,471.6 502.2,471.6 503.2,471.6 504.2,471.6 505.2,471.6 506.2,471.6 507.2,471.6 508.2,471.6" fill="none" stroke="#2a7fd4" stroke-width="1.3" stroke-linejoin="round" stroke-linecap="round"/>
<path d="M225.0,461.7 226.0,461.9 227.0,462.0 228.0,462.2 229.0,462.4 230.0,462.6 230.9,462.7 231.9,462.9 232.9,463.1 233.9,463.3 234.9,463.4 235.9,463.6 236.9,463.8 237.9,463.9 238.9,464.1 239.9,464.3 240.8,464.5 241.8,464.6 242.8,464.8 243.8,465.0 244.8,465.1 245.8,465.3 246.8,465.5 247.8,465.7 248.8,465.8 249.8,466.0 250.7,466.2 251.7,466.3 252.7,466.5 253.7,466.7 254.7,466.9 255.7,467.0 256.7,467.2 257.7,467.4 258.7,467.5 259.7,467.7 260.7,467.9 261.6,468.0 262.6,468.2 263.6,468.4 264.6,468.5 265.6,468.7 266.6,468.9 267.6,469.0 268.6,469.2 269.6,469.4 270.6,469.5 271.6,469.7 272.6,469.8 273.5,470.0 274.5,470.2 275.5,470.3 276.5,470.5 277.5,470.7 278.5,470.8 279.5,471.0 280.5,471.1 281.5,471.3 282.5,471.5 283.5,471.6 284.5,471.8 285.4,471.9 286.4,472.1 287.4,472.3 288.4,472.4 289.4,472.6 290.4,472.7 291.4,472.9 292.4,473.0 293.4,473.2 294.4,473.4 295.4,473.5 296.4,473.7 297.4,473.8 298.4,474.0 299.3,474.1 300.3,474.3 301.3,474.4 302.3,474.6 303.3,474.7 304.3,474.9 305.3,475.0 306.3,475.2 307.3,475.3 308.3,475.5 309.3,475.6 310.3,475.8 311.3,475.9 312.3,476.1 313.3,476.2 314.3,476.4 315.3,476.5 316.2,476.6 317.2,476.8 318.2,476.9 319.2,477.1 320.2,477.2 321.2,477.3 322.2,477.5 323.2,477.6 324.2,477.8 325.2,477.9 326.2,478.0 327.2,478.2 328.2,478.3 329.2,478.4 330.2,478.6 331.2,478.7 332.2,478.9 333.2,479.0 334.2,479.2 335.2,479.3 336.2,479.4 337.1,479.6 338.1,479.7 339.1,479.9 340.1,480.0 341.1,480.2 342.1,480.3 343.1,480.5 344.1,480.6 345.1,480.8 346.1,480.9 347.1,481.1 348.1,481.2 349.1,481.4 350.1,481.5 351.1,481.7 352.1,481.8 353.1,482.0 354.0,482.1 355.0,482.3 356.0,482.4 357.0,482.6 358.0,482.7 359.0,482.9 360.0,483.0 361.0,483.2 362.0,483.4 363.0,483.5 364.0,483.7 365.0,483.8 366.0,484.0 367.0,484.2 367.9,484.3 368.9,484.5 369.9,484.7 370.9,484.8 371.9,485.0 372.9,485.2 373.9,485.3 374.9,485.5 375.9,485.7 376.9,485.8 377.8,486.0 378.8,486.2 379.8,486.4 380.8,486.6 381.8,486.7 382.8,486.9 383.8,487.1 384.8,487.3 385.8,487.5 386.7,487.6 387.7,487.8 388.7,488.0 389.7,488.2 390.7,488.4 391.7,488.6 392.7,488.8 393.7,488.9 394.6,489.1 395.6,489.3 396.6,489.5 397.6,489.7 398.6,489.9 399.6,490.1 400.6,490.3 401.5,490.5 402.5,490.7 403.5,490.9 404.5,491.1 405.5,491.3 406.5,491.5 407.5,491.7 408.4,491.9 409.4,492.2 410.4,492.4 411.4,492.6 412.4,492.8 413.3,493.0 414.3,493.2 415.3,493.5 416.3,493.7 417.3,493.9 418.2,494.1 419.2,494.3 420.2,494.6 421.2,494.8 422.2,495.0 423.1,495.2 424.1,495.5 425.1,495.7 426.1,495.9 427.1,496.2 428.0,496.4 429.0,496.6 430.0,496.8 431.0,497.1 432.0,497.3 432.9,497.5 433.9,497.7 434.9,497.9 435.9,498.2 436.9,498.4 437.8,498.6 438.8,498.8 439.8,499.0 440.8,499.3 441.8,499.5 442.8,499.7 443.7,499.9 444.7,500.1 445.7,500.3 446.7,500.5 447.7,500.7 448.6,501.0 449.6,501.2 450.6,501.4 451.6,501.6 452.6,501.8 453.6,502.0 454.5,502.3 455.5,502.5 456.5,502.7 457.5,503.0 458.4,503.2 459.4,503.5 460.4,503.7 461.3,504.0 462.3,504.3 463.3,504.6 464.2,504.9 465.2,505.2 466.2,505.5 467.1,505.8 468.1,506.1 469.0,506.4 470.0,506.8 470.9,507.1 471.9,507.4 472.8,507.8 473.8,508.1 474.7,508.4 475.7,508.7 476.6,509.1 477.6,509.4 478.5,509.7 479.5,510.0 480.4,510.3 481.4,510.6 482.3,510.9 483.3,511.2 484.3,511.5 485.2,511.9 486.2,512.2 487.1,512.5 488.1,512.8 489.0,513.1 490.0,513.5 490.9,513.8 491.9,514.1 492.8,514.5 493.8,514.8 494.7,515.2 495.6,515.5 496.6,515.9 497.5,516.2 498.5,516.6 499.4,517.0 500.3,517.3 501.3,517.7 502.2,518.1 503.1,518.4 504.1,518.8 505.0,519.2 505.9,519.6 506.9,519.9 507.8,520.3 508.7,520.7 509.7,521.1 510.6,521.4 511.5,521.8 512.5,522.1 513.4,522.5 514.4,522.8 515.3,523.1 516.3,523.4 517.2,523.7 518.2,524.0 519.2,524.3 520.1,524.6 521.1,524.9 522.1,525.1 523.0,525.3 524.0,525.6 525.0,525.8 526.0,525.9 527.0,526.1 528.0,526.3 529.0,526.4 530.0,526.5 531.0,526.6 532.0,526.7 533.0,526.8 534.0,526.9 535.0,527.0 536.0,527.0 537.0,527.1 538.0,527.1 539.0,527.2 540.0,527.2 541.0,527.2 542.0,527.3 543.0,527.3" fill="none" stroke="#7a30c0" stroke-width="1.3" stroke-linejoin="round" stroke-linecap="round"/>
<path d="M225.0,490.2 226.0,490.3 227.0,490.4 228.0,490.5 229.0,490.6 230.0,490.7 231.0,490.8 232.0,491.0 233.0,491.1 234.0,491.2 235.0,491.3 236.0,491.4 237.0,491.5 238.0,491.6 239.0,491.7 240.0,491.8 241.0,491.9 242.0,492.0 243.0,492.1 244.0,492.2 244.9,492.4 245.9,492.5 246.9,492.6 247.9,492.7 248.9,492.8 249.9,492.9 250.9,493.0 251.9,493.1 252.9,493.2 253.9,493.4 254.9,493.5 255.9,493.6 256.9,493.7 257.9,493.8 258.9,493.9 259.9,494.1 260.9,494.2 261.9,494.3 262.9,494.4 263.9,494.6 264.9,494.7 265.9,494.8 266.9,495.0 267.9,495.1 268.9,495.2 269.8,495.4 270.8,495.5 271.8,495.6 272.8,495.8 273.8,495.9 274.8,496.1 275.8,496.2 276.8,496.3 277.8,496.5 278.8,496.6 279.8,496.8 280.8,496.9 281.8,497.1 282.8,497.2 283.7,497.4 284.7,497.5 285.7,497.7 286.7,497.8 287.7,498.0 288.7,498.1 289.7,498.3 290.7,498.4 291.7,498.6 292.7,498.7 293.7,498.9 294.7,499.0 295.6,499.2 296.6,499.3 297.6,499.5 298.6,499.6 299.6,499.8 300.6,499.9 301.6,500.1 302.6,500.2 303.6,500.4 304.6,500.5 305.6,500.7 306.6,500.8 307.6,501.0 308.5,501.1 309.5,501.2 310.5,501.4 311.5,501.5 312.5,501.7 313.5,501.8 314.5,501.9 315.5,502.1 316.5,502.2 317.5,502.3 318.5,502.5 319.5,502.6 320.5,502.8 321.5,502.9 322.5,503.0 323.5,503.2 324.5,503.3 325.4,503.4 326.4,503.6 327.4,503.7 328.4,503.8 329.4,504.0 330.4,504.1 331.4,504.3 332.4,504.4 333.4,504.6 334.4,504.7 335.4,504.9 336.4,505.0 337.4,505.2 338.3,505.3 339.3,505.5 340.3,505.7 341.3,505.9 342.3,506.0 343.3,506.2 344.3,506.4 345.2,506.6 346.2,506.8 347.2,507.1 348.2,507.3 349.2,507.5 350.1,507.8 351.1,508.0 352.1,508.3 353.0,508.6 354.0,508.8 355.0,509.1 355.9,509.4 356.9,509.7 357.9,509.9 358.8,510.2 359.8,510.5 360.8,510.8 361.7,511.0 362.7,511.3 363.6,511.6 364.6,511.9 365.5,512.2 366.5,512.5 367.5,512.8 368.4,513.2 369.4,513.5 370.3,513.8 371.2,514.2 372.2,514.5 373.1,514.9 374.1,515.2 375.0,515.6 375.9,516.0 376.8,516.4 377.8,516.8 378.7,517.1 379.6,517.5 380.5,517.9 381.5,518.3 382.4,518.7 383.3,519.2 384.2,519.6 385.1,520.0 386.1,520.4 387.0,520.7 387.9,521.1 388.8,521.5 389.7,521.9 390.7,522.3 391.6,522.7 392.5,523.1 393.5,523.4 394.4,523.8 395.3,524.2 396.2,524.6 397.2,525.0 398.1,525.3 399.0,525.7 400.0,526.1 400.9,526.5 401.8,526.9 402.7,527.3 403.7,527.7 404.6,528.1 405.5,528.5 406.4,528.9 407.3,529.3 408.3,529.7 409.2,530.1 410.1,530.5 411.0,530.9 411.9,531.3 412.8,531.7 413.7,532.2 414.6,532.6 415.5,533.0 416.5,533.4 417.4,533.9 418.3,534.3 419.2,534.7 420.1,535.2 421.0,535.6 421.9,536.1 422.8,536.5 423.7,537.0 424.6,537.4 425.5,537.8 426.4,538.2 427.3,538.7 428.2,539.1 429.1,539.5 430.0,539.9 431.0,540.3 431.9,540.7 432.8,541.1 433.7,541.5 434.6,541.9 435.6,542.3 436.5,542.7 437.4,543.1 438.3,543.4 439.3,543.8 440.2,544.2 441.2,544.5 442.1,544.9 443.0,545.2 444.0,545.5 444.9,545.8 445.9,546.1 446.9,546.4 447.8,546.7 448.8,547.0 449.8,547.2 450.7,547.5 451.7,547.7 452.7,547.9 453.7,548.1 454.7,548.3 455.7,548.4 456.6,548.6 457.6,548.7 458.6,548.9 459.6,549.0 460.6,549.1 461.6,549.1 462.6,549.2 463.6,549.3 464.6,549.3 465.6,549.3 466.6,549.4 467.6,549.4 468.6,549.3 469.6,549.3 470.6,549.3 471.6,549.2 472.6,549.1 473.6,549.0 474.6,548.9 475.6,548.7 476.6,548.6 477.6,548.4 478.6,548.2 479.5,547.9 480.5,547.7 481.5,547.5 482.5,547.2 483.4,546.9 484.4,546.7 485.3,546.4 486.3,546.1 487.3,545.8 488.2,545.5 489.2,545.2 490.1,544.9 491.1,544.6 492.0,544.2 493.0,543.9 493.9,543.6 494.9,543.2 495.8,542.9 496.8,542.6 497.7,542.2 498.7,541.9 499.6,541.6 500.5,541.2 501.5,540.9 502.4,540.6 503.4,540.3 504.4,540.0 505.3,539.7 506.3,539.4 507.2,539.1 508.2,538.8 509.1,538.5 510.1,538.2 511.1,537.9 512.0,537.7 513.0,537.4 514.0,537.1 514.9,536.9 515.9,536.6 516.9,536.4 517.9,536.1 518.8,535.9 519.8,535.7 520.8,535.5 521.8,535.2 522.8,535.0 523.7,534.8 524.7,534.6 525.7,534.5 526.7,534.3 527.7,534.1 528.7,533.9 529.7,533.7 530.6,533.6 531.6,533.4 532.6,533.2 533.6,533.1 534.6,532.9" fill="none" stroke="#355e22" stroke-width="1.3" stroke-linejoin="round" stroke-linecap="round"/>
<path d="M225.0,515.0 226.0,515.1 227.0,515.3 228.0,515.4 229.0,515.5 230.0,515.7 231.0,515.8 232.0,516.0 233.0,516.1 234.0,516.2 235.0,516.4 236.0,516.5 237.0,516.6 237.9,516.8 238.9,516.9 239.9,517.0 240.9,517.2 241.9,517.3 242.9,517.4 243.9,517.6 244.9,517.7 245.9,517.9 246.9,518.0 247.9,518.1 248.9,518.3 249.9,518.4 250.9,518.6 251.9,518.7 252.9,518.8 253.9,519.0 254.9,519.1 255.9,519.3 256.9,519.4 257.9,519.5 258.9,519.7 259.8,519.8 260.8,520.0 261.8,520.1 262.8,520.3 263.8,520.4 264.8,520.6 265.8,520.7 266.8,520.9 267.8,521.0 268.8,521.2 269.8,521.3 270.8,521.5 271.8,521.6 272.8,521.8 273.8,522.0 274.7,522.1 275.7,522.3 276.7,522.4 277.7,522.6 278.7,522.7 279.7,522.9 280.7,523.1 281.7,523.2 282.7,523.4 283.7,523.6 284.7,523.7 285.7,523.9 286.7,524.0 287.6,524.2 288.6,524.4 289.6,524.5 290.6,524.7 291.6,524.9 292.6,525.0 293.6,525.2 294.6,525.4 295.6,525.5 296.6,525.7 297.6,525.9 298.5,526.1 299.5,526.2 300.5,526.4 301.5,526.6 302.5,526.8 303.5,526.9 304.5,527.1 305.5,527.3 306.5,527.5 307.5,527.6 308.4,527.8 309.4,528.0 310.4,528.2 311.4,528.4 312.4,528.6 313.4,528.7 314.4,528.9 315.4,529.1 316.3,529.3 317.3,529.5 318.3,529.7 319.3,529.9 320.3,530.1 321.3,530.3 322.3,530.5 323.2,530.6 324.2,530.8 325.2,531.0 326.2,531.2 327.2,531.4 328.2,531.6 329.2,531.8 330.2,532.0 331.1,532.2 332.1,532.4 333.1,532.6 334.1,532.8 335.1,533.0 336.1,533.2 337.0,533.4 338.0,533.6 339.0,533.8 340.0,534.0 341.0,534.2 342.0,534.4 343.0,534.6 343.9,534.8 344.9,535.0 345.9,535.2 346.9,535.4 347.9,535.6 348.9,535.8 349.8,536.0 350.8,536.3 351.8,536.5 352.8,536.7 353.8,536.9 354.7,537.2 355.7,537.4 356.7,537.7 357.7,537.9 358.6,538.2 359.6,538.4 360.6,538.7 361.5,539.0 362.5,539.2 363.5,539.5 364.4,539.8 365.4,540.1 366.4,540.4 367.3,540.7 368.3,541.0 369.2,541.3 370.2,541.6 371.2,541.9 372.1,542.2 373.0,542.6 374.0,542.9 374.9,543.3 375.9,543.7 376.8,544.1 377.7,544.5 378.6,544.9 379.5,545.3 380.4,545.8 381.3,546.3 382.2,546.7 383.1,547.2 383.9,547.7 384.8,548.3 385.6,548.8 386.5,549.3 387.3,549.9 388.2,550.4 389.0,551.0 389.8,551.6 390.6,552.2 391.5,552.8 392.3,553.4 393.0,554.0 393.8,554.6 394.6,555.3 395.3,555.9 396.1,556.6 396.8,557.3 397.6,557.9 398.3,558.6 399.0,559.3 399.8,560.0 400.5,560.7 401.2,561.4 401.9,562.1 402.7,562.8 403.4,563.5 404.2,564.1 405.0,564.8 405.7,565.4 406.5,566.0 407.3,566.6 408.2,567.2 409.0,567.8 409.8,568.3 410.7,568.8 411.6,569.2 412.5,569.7 413.4,570.0 414.4,570.4 415.3,570.7 416.3,570.9 417.3,571.2 418.3,571.4 419.2,571.7 420.2,571.9 421.2,572.1 422.2,572.3 423.2,572.5 424.2,572.7 425.1,572.9 426.1,573.0 427.1,573.2 428.1,573.4 429.1,573.5 430.1,573.6 431.1,573.8 432.1,573.9 433.1,574.0 434.1,574.1 435.1,574.2 436.1,574.3 437.1,574.4 438.1,574.5 439.1,574.6 440.1,574.7 441.1,574.8 442.1,575.0 443.1,575.1 444.1,575.2 445.1,575.3 446.1,575.4 447.1,575.6 448.1,575.7 449.1,575.8 450.1,575.9 451.1,576.0 452.1,576.1 453.1,576.2 454.1,576.3 455.1,576.4 456.1,576.5 457.1,576.6 458.1,576.7 459.1,576.9 460.1,577.0 461.1,577.1 462.1,577.2 463.1,577.3 464.1,577.4 465.1,577.6 466.1,577.7 467.1,577.9 468.1,578.0 469.0,578.2 470.0,578.3 471.0,578.4 472.0,578.6 473.0,578.7 474.0,578.9 475.0,579.0 476.0,579.1 477.0,579.2 478.0,579.3 479.0,579.4 480.0,579.5 481.0,579.7 482.0,579.8 483.0,579.9 484.0,580.0 485.0,580.1 486.0,580.1 487.0,580.2 488.0,580.3 489.0,580.4 490.0,580.5 491.0,580.5 492.0,580.6 493.0,580.6 494.0,580.7 495.0,580.7 496.0,580.8 497.0,580.8 498.1,580.9 499.1,580.9 500.1,580.9 501.1,580.9 502.1,581.0 503.1,581.0 504.1,581.0 505.1,581.0 506.1,581.0 507.1,581.0 508.1,581.0 509.1,581.0 510.1,580.9 511.1,580.9 512.1,580.8 513.1,580.8 514.1,580.7 515.1,580.6 516.1,580.4 517.1,580.3 518.1,580.1 519.1,579.9 520.1,579.7 521.1,579.5 522.0,579.3 523.0,579.0 524.0,578.7 524.9,578.5 525.9,578.1 526.8,577.8 527.8,577.5 528.7,577.1 529.6,576.7 530.5,576.2 531.4,575.8 532.3,575.3 533.2,574.9 534.1,574.5 535.1,574.1 536.0,573.7 536.9,573.4 537.9,573.1 538.9,572.9 539.9,572.7 540.8,572.4 541.8,572.2 542.8,571.9 543.7,571.7 544.7,571.3 545.6,570.9 546.5,570.4 547.3,569.8 547.9,569.1 548.5,568.4 549.0,567.5 549.3,566.6 549.6,565.6" fill="none" stroke="#62ad3c" stroke-width="1.3" stroke-linejoin="round" stroke-linecap="round"/>
<line x1="370.4" y1="438.9" x2="357.6" y2="451.4" stroke="#111" stroke-width="1"/>
<path d="M357.60,451.40 L359.28,446.68 L362.36,449.83 Z" fill="#111"/>
<text x="373.31" y="440.00" font-size="12.43" fill="#111" textLength="42.09" lengthAdjust="spacingAndGlyphs">Tg98 °C</text>
<line x1="485.1" y1="418.5" x2="471.8" y2="437.1" stroke="#111" stroke-width="1"/>
<path d="M471.80,437.10 L472.63,432.16 L476.21,434.72 Z" fill="#111"/>
<text x="488.91" y="420.40" font-size="13.43" fill="#111" textLength="48.75" lengthAdjust="spacingAndGlyphs">Tg157 °C</text>
<text x="544.80" y="449.30" font-size="11.00" fill="#111" textLength="21.14" lengthAdjust="spacingAndGlyphs">SEL</text>
<text x="494.28" y="467.90" font-size="11.74" fill="#111" textLength="17.08" lengthAdjust="spacingAndGlyphs">IEL</text>
<line x1="505.7" y1="498.4" x2="491.2" y2="514.4" stroke="#111" stroke-width="1"/>
<path d="M491.20,514.40 L492.59,509.59 L495.85,512.54 Z" fill="#111"/>
<text x="509.22" y="501.20" font-size="12.00" fill="#111" textLength="47.94" lengthAdjust="spacingAndGlyphs">Tg167 °C</text>
<text x="530.42" y="523.20" font-size="11.74" fill="#111" textLength="17.95" lengthAdjust="spacingAndGlyphs">IBL</text>
<line x1="425.6" y1="519.5" x2="413.9" y2="532.3" stroke="#111" stroke-width="1"/>
<path d="M413.90,532.30 L415.31,527.49 L418.56,530.46 Z" fill="#111"/>
<text x="427.72" y="522.00" font-size="13.43" fill="#111" textLength="47.53" lengthAdjust="spacingAndGlyphs">Tg127 °C</text>
<text x="536.57" y="541.80" font-size="11.30" fill="#111" textLength="16.57" lengthAdjust="spacingAndGlyphs">IFL</text>
<line x1="413.8" y1="543.3" x2="397.2" y2="556.7" stroke="#111" stroke-width="1"/>
<path d="M397.20,556.70 L399.32,552.16 L402.08,555.59 Z" fill="#111"/>
<text x="413.92" y="556.00" font-size="12.00" fill="#111" textLength="46.54" lengthAdjust="spacingAndGlyphs">Tg118 °C</text>
<text x="538.47" y="563.50" font-size="11.74" fill="#111" textLength="18.99" lengthAdjust="spacingAndGlyphs">IML</text>
</svg>
</body></html>
